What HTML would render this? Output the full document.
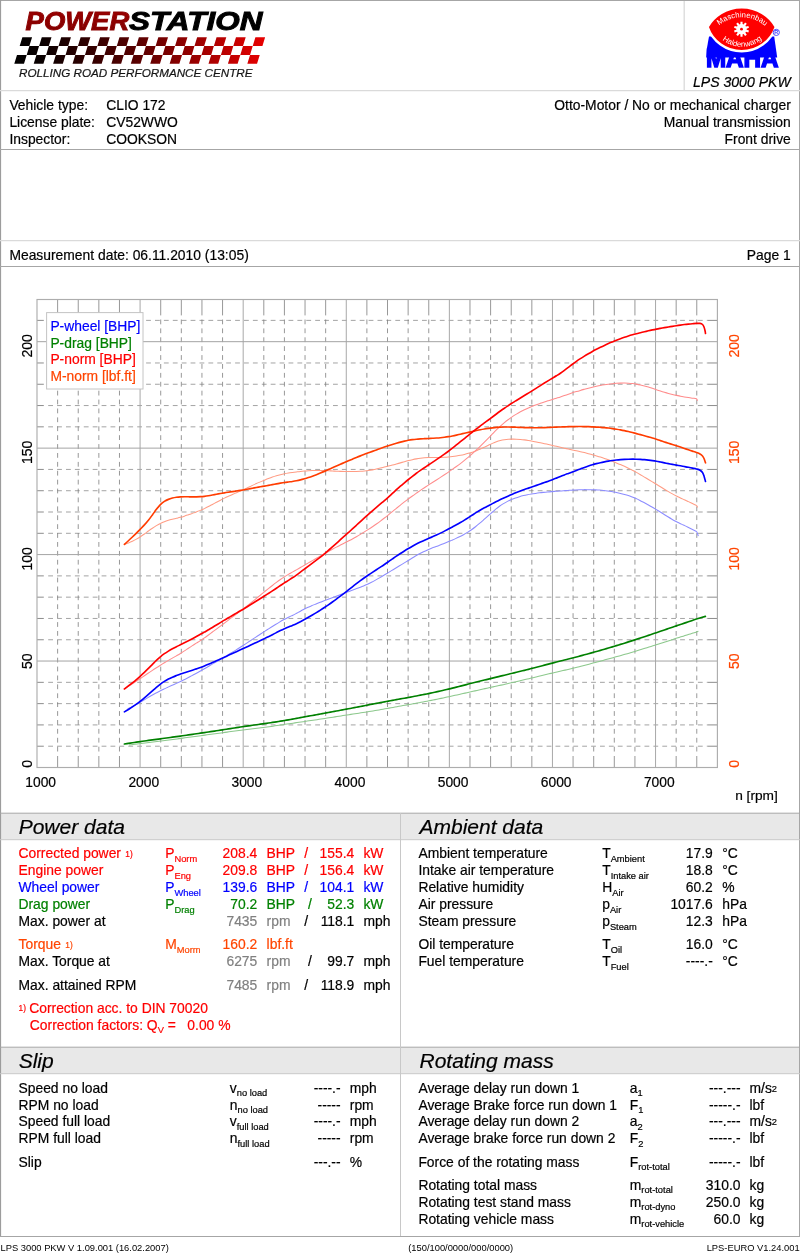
<!DOCTYPE html>
<html lang="en">
<head>
<meta charset="utf-8">
<title>LPS 3000 PKW - Power measurement</title>
<style>
html,body{margin:0;padding:0;background:#fff;}
body{width:800px;height:1253px;overflow:hidden;font-family:"Liberation Sans", Arial, sans-serif;}
svg{display:block;position:absolute;left:0;top:0;will-change:transform;}
svg{font-family:"Liberation Sans", Arial, sans-serif;font-size:13.86px;fill:#000;}
svg text{white-space:pre;stroke-width:0.2px;stroke:#000;}
.i{font-style:italic;}
.r{fill:#ff0000;stroke:#ff0000;} .b{fill:#0000ff;stroke:#0000ff;} .g{fill:#008000;stroke:#008000;} .o{fill:#ff4500;stroke:#ff4500;} .y{fill:#808080;stroke:#808080;}
svg text.ns, .ns text{stroke:none;}
</style>
</head>
<body>
<svg width="800" height="1253" viewBox="0 0 800 1253">
<!-- frame -->
<rect x="1" y="813.5" width="798" height="26" fill="#e8e8e8"/>
<rect x="1" y="1047.5" width="798" height="26" fill="#e8e8e8"/>
<line x1="0" y1="0.5" x2="800" y2="0.5" stroke="#a6a6a6" stroke-width="1"/>
<line x1="0.5" y1="0" x2="0.5" y2="1236.5" stroke="#9c9c9c" stroke-width="1.2"/>
<line x1="799.5" y1="0" x2="799.5" y2="1236.5" stroke="#a6a6a6" stroke-width="1"/>
<line x1="0" y1="1236.5" x2="800" y2="1236.5" stroke="#a6a6a6" stroke-width="1"/>
<line x1="0" y1="90.7" x2="800" y2="90.7" stroke="#dadada" stroke-width="1.3"/>
<line x1="0" y1="149.5" x2="800" y2="149.5" stroke="#a6a6a6" stroke-width="1"/>
<line x1="0" y1="240.7" x2="800" y2="240.7" stroke="#dadada" stroke-width="1.3"/>
<line x1="0" y1="266.5" x2="800" y2="266.5" stroke="#a6a6a6" stroke-width="1"/>
<line x1="0" y1="813.2" x2="800" y2="813.2" stroke="#a6a6a6" stroke-width="1"/>
<line x1="0" y1="839.7" x2="800" y2="839.7" stroke="#c8c8c8" stroke-width="1"/>
<line x1="0" y1="1047.2" x2="800" y2="1047.2" stroke="#a6a6a6" stroke-width="1"/>
<line x1="0" y1="1073.7" x2="800" y2="1073.7" stroke="#c8c8c8" stroke-width="1"/>
<line x1="684.2" y1="1" x2="684.2" y2="90.5" stroke="#dadada" stroke-width="1.3"/>
<line x1="400.5" y1="813" x2="400.5" y2="1236" stroke="#c8c8c8" stroke-width="1"/>
<!-- header -->
<defs><linearGradient id="flagg" gradientUnits="userSpaceOnUse" x1="12" x2="265" y1="0" y2="0"><stop offset="0" stop-color="#000"/><stop offset="0.12" stop-color="#0a0000"/><stop offset="0.5" stop-color="#5a0000"/><stop offset="1" stop-color="#e80000"/></linearGradient><linearGradient id="powg" x1="0" x2="0" y1="0" y2="1"><stop offset="0" stop-color="#a00000"/><stop offset="1" stop-color="#7c0000"/></linearGradient></defs>
<path d="M22.37,37.30L32.08,37.30L29.39,46.10L19.68,46.10ZM41.79,37.30L51.50,37.30L48.81,46.10L39.10,46.10ZM61.21,37.30L70.92,37.30L68.23,46.10L58.52,46.10ZM80.63,37.30L90.34,37.30L87.65,46.10L77.94,46.10ZM100.05,37.30L109.76,37.30L107.07,46.10L97.36,46.10ZM119.47,37.30L129.18,37.30L126.49,46.10L116.78,46.10ZM138.89,37.30L148.60,37.30L145.91,46.10L136.20,46.10ZM158.31,37.30L168.02,37.30L165.33,46.10L155.62,46.10ZM177.73,37.30L187.44,37.30L184.75,46.10L175.04,46.10ZM197.15,37.30L206.86,37.30L204.17,46.10L194.46,46.10ZM216.57,37.30L226.28,37.30L223.59,46.10L213.88,46.10ZM235.99,37.30L245.70,37.30L243.01,46.10L233.30,46.10ZM255.41,37.30L265.12,37.30L262.43,46.10L252.72,46.10ZM29.39,46.10L39.10,46.10L36.41,54.90L26.70,54.90ZM48.81,46.10L58.52,46.10L55.83,54.90L46.12,54.90ZM68.23,46.10L77.94,46.10L75.25,54.90L65.54,54.90ZM87.65,46.10L97.36,46.10L94.67,54.90L84.96,54.90ZM107.07,46.10L116.78,46.10L114.09,54.90L104.38,54.90ZM126.49,46.10L136.20,46.10L133.51,54.90L123.80,54.90ZM145.91,46.10L155.62,46.10L152.93,54.90L143.22,54.90ZM165.33,46.10L175.04,46.10L172.35,54.90L162.64,54.90ZM184.75,46.10L194.46,46.10L191.77,54.90L182.06,54.90ZM204.17,46.10L213.88,46.10L211.19,54.90L201.48,54.90ZM223.59,46.10L233.30,46.10L230.61,54.90L220.90,54.90ZM243.01,46.10L252.72,46.10L250.03,54.90L240.32,54.90ZM16.99,54.90L26.70,54.90L24.01,63.70L14.30,63.70ZM36.41,54.90L46.12,54.90L43.43,63.70L33.72,63.70ZM55.83,54.90L65.54,54.90L62.85,63.70L53.14,63.70ZM75.25,54.90L84.96,54.90L82.27,63.70L72.56,63.70ZM94.67,54.90L104.38,54.90L101.69,63.70L91.98,63.70ZM114.09,54.90L123.80,54.90L121.11,63.70L111.40,63.70ZM133.51,54.90L143.22,54.90L140.53,63.70L130.82,63.70ZM152.93,54.90L162.64,54.90L159.95,63.70L150.24,63.70ZM172.35,54.90L182.06,54.90L179.37,63.70L169.66,63.70ZM191.77,54.90L201.48,54.90L198.79,63.70L189.08,63.70ZM211.19,54.90L220.90,54.90L218.21,63.70L208.50,63.70ZM230.61,54.90L240.32,54.90L237.63,63.70L227.92,63.70ZM250.03,54.90L259.74,54.90L257.05,63.70L247.34,63.70Z" fill="url(#flagg)"/>
<text x="25.6" y="29.8" font-size="25.3" font-weight="bold" font-style="italic" textLength="103.6" lengthAdjust="spacingAndGlyphs" style="stroke:#8c0000;stroke-width:0.9px" fill="url(#powg)">POWER</text>
<text x="129.0" y="29.8" font-size="25.3" font-weight="bold" font-style="italic" textLength="133.4" lengthAdjust="spacingAndGlyphs" style="stroke:#000;stroke-width:0.9px" fill="#000">STATION</text>
<text x="19.1" y="77.2" font-size="11.68" font-style="italic" fill="#222">ROLLING ROAD PERFORMANCE CENTRE</text>
<path d="M709,36.6 L774.2,36.6 L777.2,57.6 L706.2,57.6 L706.6,50 Z" fill="#0000ff"/>
<text x="705.9" y="67.4" font-size="25" font-weight="bold" fill="#0000ff" style="stroke:#0000ff;stroke-width:1.5px" stroke-linejoin="miter" textLength="72.6" lengthAdjust="spacingAndGlyphs">MAHA</text>
<path d="M707.6,26.8 A39.6,39.6 0 0 1 775.8,26.8 A36,36 0 0 1 707.6,26.8Z" fill="#ff0000" stroke="#fff" stroke-width="2.4" stroke-linejoin="round"/>
<path id="arcT" d="M716.6,27.6 A35.6,35.6 0 0 1 767.6,28.4" fill="none"/>
<path id="arcB" d="M720.3,38.2 A31.6,31.6 0 0 0 764.2,37.6" fill="none"/>
<text class="ns" font-size="7.7" fill="#fff"><textPath href="#arcT" startOffset="50%" text-anchor="middle">Maschinenbau</textPath></text>
<text class="ns" font-size="7.7" fill="#fff"><textPath href="#arcB" startOffset="50%" text-anchor="middle">Haldenwang</textPath></text>
<path d="M740.45,21.67L742.55,21.67L742.60,24.12L743.60,24.44L745.08,22.49L746.77,23.73L745.38,25.74L745.99,26.58L748.34,25.88L748.98,27.87L746.67,28.68L746.67,29.72L748.98,30.53L748.34,32.52L745.99,31.82L745.38,32.66L746.77,34.67L745.08,35.91L743.60,33.96L742.60,34.28L742.55,36.73L740.45,36.73L740.40,34.28L739.40,33.96L737.92,35.91L736.23,34.67L737.62,32.66L737.01,31.82L734.66,32.52L734.02,30.53L736.33,29.72L736.33,28.68L734.02,27.87L734.66,25.88L737.01,26.58L737.62,25.74L736.23,23.73L737.92,22.49L739.40,24.44L740.40,24.12Z" fill="#fff"/><circle cx="741.5" cy="29.2" r="1.4" fill="#f00"/>
<circle cx="776.3" cy="32.4" r="3.1" fill="none" stroke="#3c3cff" stroke-width="0.9"/>
<text x="776.3" y="34.3" font-size="5.4" text-anchor="middle" font-weight="bold" fill="#3c3cff" class="ns">R</text>
<text x="692.9" y="87.0" font-size="14.1" font-style="italic">LPS 3000 PKW</text>
<text x="9.4" y="109.9">Vehicle type:</text>
<text x="106.2" y="109.9">CLIO 172</text>
<text x="9.4" y="127.0">License plate:</text>
<text x="106.2" y="127.0">CV52WWO</text>
<text x="9.4" y="144.1">Inspector:</text>
<text x="106.2" y="144.1">COOKSON</text>
<text x="790.8" y="109.9" text-anchor="end">Otto-Motor / No or mechanical charger</text>
<text x="790.8" y="127.0" text-anchor="end">Manual transmission</text>
<text x="790.8" y="144.1" text-anchor="end">Front drive</text>
<text x="9.4" y="260.3">Measurement date: 06.11.2010 (13:05)</text>
<text x="790.8" y="260.2" text-anchor="end">Page 1</text>
<!-- chart -->
<rect x="37.0" y="299.5" width="680.40" height="468.00" fill="#fff" stroke="none"/>
<line x1="57.62" y1="751.50" x2="57.62" y2="315.00" stroke="#6c6c6c" stroke-width="0.7" stroke-dasharray="4.8 4.1"/>
<line x1="57.62" y1="299.5" x2="57.62" y2="315.0" stroke="#8c8c8c" stroke-width="0.9"/>
<line x1="57.62" y1="767.5" x2="57.62" y2="756.0" stroke="#6c6c6c" stroke-width="0.7"/>
<line x1="78.24" y1="751.50" x2="78.24" y2="315.00" stroke="#6c6c6c" stroke-width="0.7" stroke-dasharray="4.8 4.1"/>
<line x1="78.24" y1="299.5" x2="78.24" y2="315.0" stroke="#8c8c8c" stroke-width="0.9"/>
<line x1="78.24" y1="767.5" x2="78.24" y2="756.0" stroke="#6c6c6c" stroke-width="0.7"/>
<line x1="98.85" y1="751.50" x2="98.85" y2="315.00" stroke="#6c6c6c" stroke-width="0.7" stroke-dasharray="4.8 4.1"/>
<line x1="98.85" y1="299.5" x2="98.85" y2="315.0" stroke="#8c8c8c" stroke-width="0.9"/>
<line x1="98.85" y1="767.5" x2="98.85" y2="756.0" stroke="#6c6c6c" stroke-width="0.7"/>
<line x1="119.47" y1="751.50" x2="119.47" y2="315.00" stroke="#6c6c6c" stroke-width="0.7" stroke-dasharray="4.8 4.1"/>
<line x1="119.47" y1="299.5" x2="119.47" y2="315.0" stroke="#8c8c8c" stroke-width="0.9"/>
<line x1="119.47" y1="767.5" x2="119.47" y2="756.0" stroke="#6c6c6c" stroke-width="0.7"/>
<line x1="160.71" y1="751.50" x2="160.71" y2="315.00" stroke="#6c6c6c" stroke-width="0.7" stroke-dasharray="4.8 4.1"/>
<line x1="160.71" y1="299.5" x2="160.71" y2="315.0" stroke="#8c8c8c" stroke-width="0.9"/>
<line x1="160.71" y1="767.5" x2="160.71" y2="756.0" stroke="#6c6c6c" stroke-width="0.7"/>
<line x1="181.33" y1="751.50" x2="181.33" y2="315.00" stroke="#6c6c6c" stroke-width="0.7" stroke-dasharray="4.8 4.1"/>
<line x1="181.33" y1="299.5" x2="181.33" y2="315.0" stroke="#8c8c8c" stroke-width="0.9"/>
<line x1="181.33" y1="767.5" x2="181.33" y2="756.0" stroke="#6c6c6c" stroke-width="0.7"/>
<line x1="201.95" y1="751.50" x2="201.95" y2="315.00" stroke="#6c6c6c" stroke-width="0.7" stroke-dasharray="4.8 4.1"/>
<line x1="201.95" y1="299.5" x2="201.95" y2="315.0" stroke="#8c8c8c" stroke-width="0.9"/>
<line x1="201.95" y1="767.5" x2="201.95" y2="756.0" stroke="#6c6c6c" stroke-width="0.7"/>
<line x1="222.56" y1="751.50" x2="222.56" y2="315.00" stroke="#6c6c6c" stroke-width="0.7" stroke-dasharray="4.8 4.1"/>
<line x1="222.56" y1="299.5" x2="222.56" y2="315.0" stroke="#8c8c8c" stroke-width="0.9"/>
<line x1="222.56" y1="767.5" x2="222.56" y2="756.0" stroke="#6c6c6c" stroke-width="0.7"/>
<line x1="263.80" y1="751.50" x2="263.80" y2="315.00" stroke="#6c6c6c" stroke-width="0.7" stroke-dasharray="4.8 4.1"/>
<line x1="263.80" y1="299.5" x2="263.80" y2="315.0" stroke="#8c8c8c" stroke-width="0.9"/>
<line x1="263.80" y1="767.5" x2="263.80" y2="756.0" stroke="#6c6c6c" stroke-width="0.7"/>
<line x1="284.42" y1="751.50" x2="284.42" y2="315.00" stroke="#6c6c6c" stroke-width="0.7" stroke-dasharray="4.8 4.1"/>
<line x1="284.42" y1="299.5" x2="284.42" y2="315.0" stroke="#8c8c8c" stroke-width="0.9"/>
<line x1="284.42" y1="767.5" x2="284.42" y2="756.0" stroke="#6c6c6c" stroke-width="0.7"/>
<line x1="305.04" y1="751.50" x2="305.04" y2="315.00" stroke="#6c6c6c" stroke-width="0.7" stroke-dasharray="4.8 4.1"/>
<line x1="305.04" y1="299.5" x2="305.04" y2="315.0" stroke="#8c8c8c" stroke-width="0.9"/>
<line x1="305.04" y1="767.5" x2="305.04" y2="756.0" stroke="#6c6c6c" stroke-width="0.7"/>
<line x1="325.65" y1="751.50" x2="325.65" y2="315.00" stroke="#6c6c6c" stroke-width="0.7" stroke-dasharray="4.8 4.1"/>
<line x1="325.65" y1="299.5" x2="325.65" y2="315.0" stroke="#8c8c8c" stroke-width="0.9"/>
<line x1="325.65" y1="767.5" x2="325.65" y2="756.0" stroke="#6c6c6c" stroke-width="0.7"/>
<line x1="366.89" y1="751.50" x2="366.89" y2="315.00" stroke="#6c6c6c" stroke-width="0.7" stroke-dasharray="4.8 4.1"/>
<line x1="366.89" y1="299.5" x2="366.89" y2="315.0" stroke="#8c8c8c" stroke-width="0.9"/>
<line x1="366.89" y1="767.5" x2="366.89" y2="756.0" stroke="#6c6c6c" stroke-width="0.7"/>
<line x1="387.51" y1="751.50" x2="387.51" y2="315.00" stroke="#6c6c6c" stroke-width="0.7" stroke-dasharray="4.8 4.1"/>
<line x1="387.51" y1="299.5" x2="387.51" y2="315.0" stroke="#8c8c8c" stroke-width="0.9"/>
<line x1="387.51" y1="767.5" x2="387.51" y2="756.0" stroke="#6c6c6c" stroke-width="0.7"/>
<line x1="408.13" y1="751.50" x2="408.13" y2="315.00" stroke="#6c6c6c" stroke-width="0.7" stroke-dasharray="4.8 4.1"/>
<line x1="408.13" y1="299.5" x2="408.13" y2="315.0" stroke="#8c8c8c" stroke-width="0.9"/>
<line x1="408.13" y1="767.5" x2="408.13" y2="756.0" stroke="#6c6c6c" stroke-width="0.7"/>
<line x1="428.75" y1="751.50" x2="428.75" y2="315.00" stroke="#6c6c6c" stroke-width="0.7" stroke-dasharray="4.8 4.1"/>
<line x1="428.75" y1="299.5" x2="428.75" y2="315.0" stroke="#8c8c8c" stroke-width="0.9"/>
<line x1="428.75" y1="767.5" x2="428.75" y2="756.0" stroke="#6c6c6c" stroke-width="0.7"/>
<line x1="469.98" y1="751.50" x2="469.98" y2="315.00" stroke="#6c6c6c" stroke-width="0.7" stroke-dasharray="4.8 4.1"/>
<line x1="469.98" y1="299.5" x2="469.98" y2="315.0" stroke="#8c8c8c" stroke-width="0.9"/>
<line x1="469.98" y1="767.5" x2="469.98" y2="756.0" stroke="#6c6c6c" stroke-width="0.7"/>
<line x1="490.60" y1="751.50" x2="490.60" y2="315.00" stroke="#6c6c6c" stroke-width="0.7" stroke-dasharray="4.8 4.1"/>
<line x1="490.60" y1="299.5" x2="490.60" y2="315.0" stroke="#8c8c8c" stroke-width="0.9"/>
<line x1="490.60" y1="767.5" x2="490.60" y2="756.0" stroke="#6c6c6c" stroke-width="0.7"/>
<line x1="511.22" y1="751.50" x2="511.22" y2="315.00" stroke="#6c6c6c" stroke-width="0.7" stroke-dasharray="4.8 4.1"/>
<line x1="511.22" y1="299.5" x2="511.22" y2="315.0" stroke="#8c8c8c" stroke-width="0.9"/>
<line x1="511.22" y1="767.5" x2="511.22" y2="756.0" stroke="#6c6c6c" stroke-width="0.7"/>
<line x1="531.84" y1="751.50" x2="531.84" y2="315.00" stroke="#6c6c6c" stroke-width="0.7" stroke-dasharray="4.8 4.1"/>
<line x1="531.84" y1="299.5" x2="531.84" y2="315.0" stroke="#8c8c8c" stroke-width="0.9"/>
<line x1="531.84" y1="767.5" x2="531.84" y2="756.0" stroke="#6c6c6c" stroke-width="0.7"/>
<line x1="573.07" y1="751.50" x2="573.07" y2="315.00" stroke="#6c6c6c" stroke-width="0.7" stroke-dasharray="4.8 4.1"/>
<line x1="573.07" y1="299.5" x2="573.07" y2="315.0" stroke="#8c8c8c" stroke-width="0.9"/>
<line x1="573.07" y1="767.5" x2="573.07" y2="756.0" stroke="#6c6c6c" stroke-width="0.7"/>
<line x1="593.69" y1="751.50" x2="593.69" y2="315.00" stroke="#6c6c6c" stroke-width="0.7" stroke-dasharray="4.8 4.1"/>
<line x1="593.69" y1="299.5" x2="593.69" y2="315.0" stroke="#8c8c8c" stroke-width="0.9"/>
<line x1="593.69" y1="767.5" x2="593.69" y2="756.0" stroke="#6c6c6c" stroke-width="0.7"/>
<line x1="614.31" y1="751.50" x2="614.31" y2="315.00" stroke="#6c6c6c" stroke-width="0.7" stroke-dasharray="4.8 4.1"/>
<line x1="614.31" y1="299.5" x2="614.31" y2="315.0" stroke="#8c8c8c" stroke-width="0.9"/>
<line x1="614.31" y1="767.5" x2="614.31" y2="756.0" stroke="#6c6c6c" stroke-width="0.7"/>
<line x1="634.93" y1="751.50" x2="634.93" y2="315.00" stroke="#6c6c6c" stroke-width="0.7" stroke-dasharray="4.8 4.1"/>
<line x1="634.93" y1="299.5" x2="634.93" y2="315.0" stroke="#8c8c8c" stroke-width="0.9"/>
<line x1="634.93" y1="767.5" x2="634.93" y2="756.0" stroke="#6c6c6c" stroke-width="0.7"/>
<line x1="676.16" y1="751.50" x2="676.16" y2="315.00" stroke="#6c6c6c" stroke-width="0.7" stroke-dasharray="4.8 4.1"/>
<line x1="676.16" y1="299.5" x2="676.16" y2="315.0" stroke="#8c8c8c" stroke-width="0.9"/>
<line x1="676.16" y1="767.5" x2="676.16" y2="756.0" stroke="#6c6c6c" stroke-width="0.7"/>
<line x1="696.78" y1="751.50" x2="696.78" y2="315.00" stroke="#6c6c6c" stroke-width="0.7" stroke-dasharray="4.8 4.1"/>
<line x1="696.78" y1="299.5" x2="696.78" y2="315.0" stroke="#8c8c8c" stroke-width="0.9"/>
<line x1="696.78" y1="767.5" x2="696.78" y2="756.0" stroke="#6c6c6c" stroke-width="0.7"/>
<line x1="48.20" y1="746.21" x2="707.40" y2="746.21" stroke="#7c7c7c" stroke-width="0.7" stroke-dasharray="4.8 4.1"/>
<line x1="37.0" y1="746.21" x2="43.8" y2="746.21" stroke="#8c8c8c" stroke-width="1"/>
<line x1="707.4" y1="746.21" x2="717.4" y2="746.21" stroke="#8c8c8c" stroke-width="1"/>
<line x1="48.20" y1="724.92" x2="707.40" y2="724.92" stroke="#7c7c7c" stroke-width="0.7" stroke-dasharray="4.8 4.1"/>
<line x1="37.0" y1="724.92" x2="43.8" y2="724.92" stroke="#8c8c8c" stroke-width="1"/>
<line x1="707.4" y1="724.92" x2="717.4" y2="724.92" stroke="#8c8c8c" stroke-width="1"/>
<line x1="48.20" y1="703.63" x2="707.40" y2="703.63" stroke="#7c7c7c" stroke-width="0.7" stroke-dasharray="4.8 4.1"/>
<line x1="37.0" y1="703.63" x2="43.8" y2="703.63" stroke="#8c8c8c" stroke-width="1"/>
<line x1="707.4" y1="703.63" x2="717.4" y2="703.63" stroke="#8c8c8c" stroke-width="1"/>
<line x1="48.20" y1="682.34" x2="707.40" y2="682.34" stroke="#7c7c7c" stroke-width="0.7" stroke-dasharray="4.8 4.1"/>
<line x1="37.0" y1="682.34" x2="43.8" y2="682.34" stroke="#8c8c8c" stroke-width="1"/>
<line x1="707.4" y1="682.34" x2="717.4" y2="682.34" stroke="#8c8c8c" stroke-width="1"/>
<line x1="48.20" y1="639.75" x2="707.40" y2="639.75" stroke="#7c7c7c" stroke-width="0.7" stroke-dasharray="4.8 4.1"/>
<line x1="37.0" y1="639.75" x2="43.8" y2="639.75" stroke="#8c8c8c" stroke-width="1"/>
<line x1="707.4" y1="639.75" x2="717.4" y2="639.75" stroke="#8c8c8c" stroke-width="1"/>
<line x1="48.20" y1="618.46" x2="707.40" y2="618.46" stroke="#7c7c7c" stroke-width="0.7" stroke-dasharray="4.8 4.1"/>
<line x1="37.0" y1="618.46" x2="43.8" y2="618.46" stroke="#8c8c8c" stroke-width="1"/>
<line x1="707.4" y1="618.46" x2="717.4" y2="618.46" stroke="#8c8c8c" stroke-width="1"/>
<line x1="48.20" y1="597.17" x2="707.40" y2="597.17" stroke="#7c7c7c" stroke-width="0.7" stroke-dasharray="4.8 4.1"/>
<line x1="37.0" y1="597.17" x2="43.8" y2="597.17" stroke="#8c8c8c" stroke-width="1"/>
<line x1="707.4" y1="597.17" x2="717.4" y2="597.17" stroke="#8c8c8c" stroke-width="1"/>
<line x1="48.20" y1="575.88" x2="707.40" y2="575.88" stroke="#7c7c7c" stroke-width="0.7" stroke-dasharray="4.8 4.1"/>
<line x1="37.0" y1="575.88" x2="43.8" y2="575.88" stroke="#8c8c8c" stroke-width="1"/>
<line x1="707.4" y1="575.88" x2="717.4" y2="575.88" stroke="#8c8c8c" stroke-width="1"/>
<line x1="48.20" y1="533.30" x2="707.40" y2="533.30" stroke="#7c7c7c" stroke-width="0.7" stroke-dasharray="4.8 4.1"/>
<line x1="37.0" y1="533.30" x2="43.8" y2="533.30" stroke="#8c8c8c" stroke-width="1"/>
<line x1="707.4" y1="533.30" x2="717.4" y2="533.30" stroke="#8c8c8c" stroke-width="1"/>
<line x1="48.20" y1="512.01" x2="707.40" y2="512.01" stroke="#7c7c7c" stroke-width="0.7" stroke-dasharray="4.8 4.1"/>
<line x1="37.0" y1="512.01" x2="43.8" y2="512.01" stroke="#8c8c8c" stroke-width="1"/>
<line x1="707.4" y1="512.01" x2="717.4" y2="512.01" stroke="#8c8c8c" stroke-width="1"/>
<line x1="48.20" y1="490.72" x2="707.40" y2="490.72" stroke="#7c7c7c" stroke-width="0.7" stroke-dasharray="4.8 4.1"/>
<line x1="37.0" y1="490.72" x2="43.8" y2="490.72" stroke="#8c8c8c" stroke-width="1"/>
<line x1="707.4" y1="490.72" x2="717.4" y2="490.72" stroke="#8c8c8c" stroke-width="1"/>
<line x1="48.20" y1="469.43" x2="707.40" y2="469.43" stroke="#7c7c7c" stroke-width="0.7" stroke-dasharray="4.8 4.1"/>
<line x1="37.0" y1="469.43" x2="43.8" y2="469.43" stroke="#8c8c8c" stroke-width="1"/>
<line x1="707.4" y1="469.43" x2="717.4" y2="469.43" stroke="#8c8c8c" stroke-width="1"/>
<line x1="48.20" y1="426.84" x2="707.40" y2="426.84" stroke="#7c7c7c" stroke-width="0.7" stroke-dasharray="4.8 4.1"/>
<line x1="37.0" y1="426.84" x2="43.8" y2="426.84" stroke="#8c8c8c" stroke-width="1"/>
<line x1="707.4" y1="426.84" x2="717.4" y2="426.84" stroke="#8c8c8c" stroke-width="1"/>
<line x1="48.20" y1="405.55" x2="707.40" y2="405.55" stroke="#7c7c7c" stroke-width="0.7" stroke-dasharray="4.8 4.1"/>
<line x1="37.0" y1="405.55" x2="43.8" y2="405.55" stroke="#8c8c8c" stroke-width="1"/>
<line x1="707.4" y1="405.55" x2="717.4" y2="405.55" stroke="#8c8c8c" stroke-width="1"/>
<line x1="48.20" y1="384.26" x2="707.40" y2="384.26" stroke="#7c7c7c" stroke-width="0.7" stroke-dasharray="4.8 4.1"/>
<line x1="37.0" y1="384.26" x2="43.8" y2="384.26" stroke="#8c8c8c" stroke-width="1"/>
<line x1="707.4" y1="384.26" x2="717.4" y2="384.26" stroke="#8c8c8c" stroke-width="1"/>
<line x1="48.20" y1="362.97" x2="707.40" y2="362.97" stroke="#7c7c7c" stroke-width="0.7" stroke-dasharray="4.8 4.1"/>
<line x1="37.0" y1="362.97" x2="43.8" y2="362.97" stroke="#8c8c8c" stroke-width="1"/>
<line x1="707.4" y1="362.97" x2="717.4" y2="362.97" stroke="#8c8c8c" stroke-width="1"/>
<line x1="48.20" y1="320.39" x2="707.40" y2="320.39" stroke="#7c7c7c" stroke-width="0.7" stroke-dasharray="4.8 4.1"/>
<line x1="37.0" y1="320.39" x2="43.8" y2="320.39" stroke="#8c8c8c" stroke-width="1"/>
<line x1="707.4" y1="320.39" x2="717.4" y2="320.39" stroke="#8c8c8c" stroke-width="1"/>
<line x1="140.09" y1="299.5" x2="140.09" y2="767.5" stroke="#a8a8a8" stroke-width="1"/>
<line x1="243.18" y1="299.5" x2="243.18" y2="767.5" stroke="#a8a8a8" stroke-width="1"/>
<line x1="346.27" y1="299.5" x2="346.27" y2="767.5" stroke="#a8a8a8" stroke-width="1"/>
<line x1="449.36" y1="299.5" x2="449.36" y2="767.5" stroke="#a8a8a8" stroke-width="1"/>
<line x1="552.45" y1="299.5" x2="552.45" y2="767.5" stroke="#a8a8a8" stroke-width="1"/>
<line x1="655.55" y1="299.5" x2="655.55" y2="767.5" stroke="#a8a8a8" stroke-width="1"/>
<line x1="37.0" y1="661.04" x2="717.4" y2="661.04" stroke="#a4a4a4" stroke-width="1"/>
<line x1="37.0" y1="554.59" x2="717.4" y2="554.59" stroke="#a4a4a4" stroke-width="1"/>
<line x1="37.0" y1="448.13" x2="717.4" y2="448.13" stroke="#a4a4a4" stroke-width="1"/>
<line x1="37.0" y1="341.68" x2="717.4" y2="341.68" stroke="#a4a4a4" stroke-width="1"/>
<rect x="37.0" y="299.5" width="680.40" height="468.00" fill="none" stroke="#adadad" stroke-width="1.15"/>
<path d="M124.40,544.36C125.07,544.12 127.07,543.42 128.40,542.89C129.73,542.36 131.07,541.79 132.40,541.17C133.73,540.54 135.07,539.87 136.40,539.13C137.73,538.39 139.07,537.60 140.40,536.74C141.73,535.88 143.07,534.93 144.40,533.98C145.73,533.02 147.07,532.00 148.40,531.03C149.73,530.07 151.07,529.10 152.40,528.20C153.73,527.29 155.07,526.42 156.40,525.63C157.73,524.84 159.07,524.10 160.40,523.45C161.73,522.80 163.07,522.23 164.40,521.72C165.73,521.20 167.07,520.76 168.40,520.35C169.73,519.94 171.07,519.60 172.40,519.26C173.73,518.92 175.07,518.64 176.40,518.32C177.73,518.00 179.07,517.69 180.40,517.33C181.73,516.97 183.07,516.57 184.40,516.15C185.73,515.73 187.07,515.25 188.40,514.79C189.73,514.33 191.07,513.85 192.40,513.37C193.73,512.89 195.07,512.43 196.40,511.93C197.73,511.43 199.07,510.93 200.40,510.38C201.73,509.82 203.07,509.23 204.40,508.60C205.73,507.96 207.07,507.28 208.40,506.58C209.73,505.89 211.07,505.16 212.40,504.45C213.73,503.73 215.07,503.00 216.40,502.28C217.73,501.57 219.07,500.85 220.40,500.16C221.73,499.47 223.07,498.80 224.40,498.15C225.73,497.50 227.07,496.88 228.40,496.27C229.73,495.65 231.07,495.07 232.40,494.48C233.73,493.90 235.07,493.34 236.40,492.76C237.73,492.19 239.07,491.62 240.40,491.03C241.73,490.44 243.07,489.83 244.40,489.21C245.73,488.58 247.07,487.92 248.40,487.28C249.73,486.64 251.07,485.99 252.40,485.37C253.73,484.75 255.07,484.15 256.40,483.57C257.73,482.99 259.07,482.43 260.40,481.87C261.73,481.31 263.07,480.76 264.40,480.22C265.73,479.67 267.07,479.11 268.40,478.59C269.73,478.07 271.07,477.55 272.40,477.08C273.73,476.61 275.07,476.17 276.40,475.77C277.73,475.37 279.07,475.00 280.40,474.67C281.73,474.34 283.07,474.04 284.40,473.77C285.73,473.51 287.07,473.28 288.40,473.06C289.73,472.84 291.07,472.65 292.40,472.46C293.73,472.27 295.07,472.09 296.40,471.91C297.73,471.74 299.07,471.56 300.40,471.41C301.73,471.25 303.07,471.11 304.40,470.99C305.73,470.88 307.07,470.78 308.40,470.70C309.73,470.62 311.07,470.56 312.40,470.51C313.73,470.47 315.07,470.45 316.40,470.44C317.73,470.43 319.07,470.44 320.40,470.45C321.73,470.47 323.07,470.49 324.40,470.54C325.73,470.59 327.07,470.65 328.40,470.73C329.73,470.80 331.07,470.91 332.40,470.99C333.73,471.08 335.07,471.16 336.40,471.23C337.73,471.29 339.07,471.34 340.40,471.38C341.73,471.42 343.07,471.44 344.40,471.46C345.73,471.48 347.07,471.49 348.40,471.49C349.73,471.50 351.07,471.50 352.40,471.49C353.73,471.48 355.07,471.47 356.40,471.44C357.73,471.41 359.07,471.37 360.40,471.30C361.73,471.23 363.07,471.14 364.40,471.01C365.73,470.89 367.07,470.74 368.40,470.55C369.73,470.36 371.07,470.14 372.40,469.89C373.73,469.64 375.07,469.36 376.40,469.06C377.73,468.76 379.07,468.44 380.40,468.11C381.73,467.78 383.07,467.43 384.40,467.08C385.73,466.74 387.07,466.39 388.40,466.04C389.73,465.70 391.07,465.37 392.40,465.02C393.73,464.68 395.07,464.34 396.40,463.98C397.73,463.62 399.07,463.24 400.40,462.87C401.73,462.49 403.07,462.08 404.40,461.71C405.73,461.33 407.07,460.95 408.40,460.61C409.73,460.26 411.07,459.94 412.40,459.65C413.73,459.36 415.07,459.09 416.40,458.86C417.73,458.63 419.07,458.43 420.40,458.26C421.73,458.08 423.07,457.94 424.40,457.83C425.73,457.72 427.07,457.65 428.40,457.60C429.73,457.54 431.07,457.53 432.40,457.51C433.73,457.49 435.07,457.50 436.40,457.48C437.73,457.46 439.07,457.45 440.40,457.41C441.73,457.36 443.07,457.31 444.40,457.23C445.73,457.15 447.07,457.05 448.40,456.94C449.73,456.82 451.07,456.69 452.40,456.54C453.73,456.38 455.07,456.21 456.40,456.01C457.73,455.80 459.07,455.58 460.40,455.31C461.73,455.05 463.07,454.76 464.40,454.43C465.73,454.11 467.07,453.76 468.40,453.37C469.73,452.99 471.07,452.58 472.40,452.14C473.73,451.70 475.07,451.23 476.40,450.72C477.73,450.21 479.07,449.66 480.40,449.07C481.73,448.49 483.07,447.84 484.40,447.20C485.73,446.56 487.07,445.88 488.40,445.24C489.73,444.60 491.07,443.95 492.40,443.37C493.73,442.79 495.07,442.23 496.40,441.75C497.73,441.28 499.07,440.88 500.40,440.54C501.73,440.21 503.07,439.95 504.40,439.74C505.73,439.53 507.07,439.38 508.40,439.28C509.73,439.18 511.07,439.14 512.40,439.12C513.73,439.11 515.07,439.14 516.40,439.19C517.73,439.25 519.07,439.32 520.40,439.44C521.73,439.55 523.07,439.69 524.40,439.86C525.73,440.03 527.07,440.24 528.40,440.47C529.73,440.69 531.07,440.94 532.40,441.19C533.73,441.44 535.07,441.70 536.40,441.97C537.73,442.24 539.07,442.51 540.40,442.79C541.73,443.07 543.07,443.35 544.40,443.64C545.73,443.92 547.07,444.21 548.40,444.50C549.73,444.80 551.07,445.09 552.40,445.40C553.73,445.70 555.07,446.01 556.40,446.32C557.73,446.63 559.07,446.94 560.40,447.25C561.73,447.56 563.07,447.87 564.40,448.18C565.73,448.48 567.07,448.78 568.40,449.08C569.73,449.38 571.07,449.67 572.40,449.96C573.73,450.24 575.07,450.52 576.40,450.81C577.73,451.10 579.07,451.38 580.40,451.68C581.73,451.98 583.07,452.29 584.40,452.61C585.73,452.94 587.07,453.29 588.40,453.64C589.73,453.99 591.07,454.36 592.40,454.73C593.73,455.11 595.07,455.48 596.40,455.88C597.73,456.27 599.07,456.66 600.40,457.09C601.73,457.51 603.07,457.94 604.40,458.40C605.73,458.86 607.07,459.35 608.40,459.84C609.73,460.34 611.07,460.86 612.40,461.38C613.73,461.90 615.07,462.42 616.40,462.96C617.73,463.50 619.07,464.03 620.40,464.59C621.73,465.15 623.07,465.72 624.40,466.32C625.73,466.91 627.07,467.53 628.40,468.17C629.73,468.82 631.07,469.48 632.40,470.18C633.73,470.88 635.07,471.61 636.40,472.36C637.73,473.12 639.07,473.91 640.40,474.70C641.73,475.49 643.07,476.31 644.40,477.10C645.73,477.90 647.07,478.69 648.40,479.49C649.73,480.28 651.07,481.06 652.40,481.86C653.73,482.66 655.07,483.46 656.40,484.28C657.73,485.09 659.07,485.92 660.40,486.74C661.73,487.56 663.07,488.39 664.40,489.20C665.73,490.01 667.07,490.81 668.40,491.59C669.73,492.37 671.07,493.14 672.40,493.87C673.73,494.61 675.07,495.31 676.40,495.99C677.73,496.67 679.07,497.30 680.40,497.93C681.73,498.57 683.07,499.17 684.40,499.79C685.73,500.41 687.07,501.02 688.40,501.65C689.73,502.27 691.07,502.90 692.40,503.54C693.73,504.17 695.52,504.79 696.40,505.45C697.28,506.11 697.48,507.16 697.70,507.50" fill="none" stroke="#ff9c84" stroke-width="1.05"/>
<path d="M124.40,689.00C125.07,688.56 127.07,687.28 128.40,686.41C129.73,685.54 131.07,684.67 132.40,683.79C133.73,682.91 135.07,682.03 136.40,681.14C137.73,680.24 139.07,679.34 140.40,678.44C141.73,677.54 143.07,676.62 144.40,675.72C145.73,674.81 147.07,673.90 148.40,673.00C149.73,672.10 151.07,671.21 152.40,670.33C153.73,669.45 155.07,668.57 156.40,667.71C157.73,666.85 159.07,666.01 160.40,665.18C161.73,664.34 163.07,663.53 164.40,662.73C165.73,661.93 167.07,661.14 168.40,660.37C169.73,659.60 171.07,658.84 172.40,658.09C173.73,657.33 175.07,656.60 176.40,655.83C177.73,655.06 179.07,654.29 180.40,653.48C181.73,652.66 183.07,651.79 184.40,650.92C185.73,650.05 187.07,649.13 188.40,648.25C189.73,647.37 191.07,646.49 192.40,645.64C193.73,644.79 195.07,643.98 196.40,643.15C197.73,642.31 199.07,641.50 200.40,640.63C201.73,639.76 203.07,638.85 204.40,637.91C205.73,636.98 207.07,635.98 208.40,635.00C209.73,634.02 211.07,633.01 212.40,632.02C213.73,631.03 215.07,630.05 216.40,629.07C217.73,628.08 219.07,627.11 220.40,626.12C221.73,625.12 223.07,624.12 224.40,623.11C225.73,622.10 227.07,621.07 228.40,620.06C229.73,619.05 231.07,618.04 232.40,617.05C233.73,616.05 235.07,615.08 236.40,614.11C237.73,613.13 239.07,612.17 240.40,611.18C241.73,610.19 243.07,609.18 244.40,608.15C245.73,607.12 247.07,606.06 248.40,604.99C249.73,603.92 251.07,602.82 252.40,601.72C253.73,600.63 255.07,599.51 256.40,598.41C257.73,597.30 259.07,596.19 260.40,595.09C261.73,593.99 263.07,592.89 264.40,591.81C265.73,590.73 267.07,589.66 268.40,588.60C269.73,587.54 271.07,586.50 272.40,585.47C273.73,584.44 275.07,583.41 276.40,582.42C277.73,581.42 279.07,580.43 280.40,579.50C281.73,578.57 283.07,577.67 284.40,576.82C285.73,575.97 287.07,575.18 288.40,574.39C289.73,573.61 291.07,572.88 292.40,572.12C293.73,571.37 295.07,570.62 296.40,569.86C297.73,569.09 299.07,568.32 300.40,567.54C301.73,566.77 303.07,565.99 304.40,565.22C305.73,564.44 307.07,563.67 308.40,562.90C309.73,562.13 311.07,561.36 312.40,560.59C313.73,559.82 315.07,559.05 316.40,558.28C317.73,557.52 319.07,556.74 320.40,555.98C321.73,555.21 323.07,554.45 324.40,553.69C325.73,552.93 327.07,552.18 328.40,551.44C329.73,550.70 331.07,549.97 332.40,549.25C333.73,548.53 335.07,547.82 336.40,547.13C337.73,546.43 339.07,545.75 340.40,545.07C341.73,544.39 343.07,543.73 344.40,543.05C345.73,542.37 347.07,541.70 348.40,541.01C349.73,540.32 351.07,539.64 352.40,538.92C353.73,538.21 355.07,537.48 356.40,536.72C357.73,535.97 359.07,535.18 360.40,534.38C361.73,533.58 363.07,532.75 364.40,531.91C365.73,531.08 367.07,530.23 368.40,529.37C369.73,528.51 371.07,527.64 372.40,526.75C373.73,525.85 375.07,524.95 376.40,524.00C377.73,523.06 379.07,522.09 380.40,521.09C381.73,520.09 383.07,519.06 384.40,518.01C385.73,516.97 387.07,515.90 388.40,514.82C389.73,513.75 391.07,512.65 392.40,511.56C393.73,510.47 395.07,509.38 396.40,508.30C397.73,507.22 399.07,506.15 400.40,505.09C401.73,504.04 403.07,502.99 404.40,501.96C405.73,500.93 407.07,499.92 408.40,498.92C409.73,497.93 411.07,496.95 412.40,495.98C413.73,495.01 415.07,494.07 416.40,493.13C417.73,492.20 419.07,491.28 420.40,490.37C421.73,489.47 423.07,488.58 424.40,487.70C425.73,486.82 427.07,485.95 428.40,485.09C429.73,484.23 431.07,483.38 432.40,482.53C433.73,481.68 435.07,480.83 436.40,479.98C437.73,479.13 439.07,478.28 440.40,477.42C441.73,476.55 443.07,475.69 444.40,474.81C445.73,473.93 447.07,473.04 448.40,472.14C449.73,471.24 451.07,470.32 452.40,469.39C453.73,468.46 455.07,467.51 456.40,466.54C457.73,465.57 459.07,464.59 460.40,463.57C461.73,462.56 463.07,461.53 464.40,460.46C465.73,459.39 467.07,458.29 468.40,457.16C469.73,456.02 471.07,454.84 472.40,453.64C473.73,452.43 475.07,451.19 476.40,449.92C477.73,448.66 479.07,447.37 480.40,446.07C481.73,444.77 483.07,443.45 484.40,442.12C485.73,440.79 487.07,439.44 488.40,438.09C489.73,436.73 491.07,435.35 492.40,433.99C493.73,432.63 495.07,431.24 496.40,429.93C497.73,428.61 499.07,427.32 500.40,426.10C501.73,424.89 503.07,423.73 504.40,422.64C505.73,421.54 507.07,420.50 508.40,419.51C509.73,418.52 511.07,417.58 512.40,416.68C513.73,415.78 515.07,414.94 516.40,414.13C517.73,413.32 519.07,412.55 520.40,411.82C521.73,411.10 523.07,410.41 524.40,409.76C525.73,409.10 527.07,408.49 528.40,407.90C529.73,407.31 531.07,406.76 532.40,406.22C533.73,405.69 535.07,405.19 536.40,404.70C537.73,404.21 539.07,403.75 540.40,403.29C541.73,402.83 543.07,402.39 544.40,401.96C545.73,401.52 547.07,401.10 548.40,400.68C549.73,400.26 551.07,399.85 552.40,399.44C553.73,399.02 555.07,398.62 556.40,398.20C557.73,397.78 559.07,397.37 560.40,396.93C561.73,396.50 563.07,396.05 564.40,395.60C565.73,395.14 567.07,394.67 568.40,394.21C569.73,393.75 571.07,393.29 572.40,392.85C573.73,392.41 575.07,391.98 576.40,391.57C577.73,391.16 579.07,390.77 580.40,390.39C581.73,390.00 583.07,389.63 584.40,389.26C585.73,388.89 587.07,388.53 588.40,388.19C589.73,387.84 591.07,387.50 592.40,387.18C593.73,386.85 595.07,386.54 596.40,386.25C597.73,385.96 599.07,385.67 600.40,385.42C601.73,385.16 603.07,384.93 604.40,384.72C605.73,384.50 607.07,384.32 608.40,384.15C609.73,383.98 611.07,383.83 612.40,383.69C613.73,383.56 615.07,383.44 616.40,383.34C617.73,383.25 619.07,383.16 620.40,383.11C621.73,383.05 623.07,383.02 624.40,383.03C625.73,383.05 627.07,383.10 628.40,383.19C629.73,383.28 631.07,383.40 632.40,383.56C633.73,383.72 635.07,383.91 636.40,384.14C637.73,384.37 639.07,384.63 640.40,384.93C641.73,385.23 643.07,385.56 644.40,385.92C645.73,386.28 647.07,386.67 648.40,387.08C649.73,387.49 651.07,387.93 652.40,388.36C653.73,388.80 655.07,389.25 656.40,389.69C657.73,390.14 659.07,390.58 660.40,391.01C661.73,391.44 663.07,391.86 664.40,392.26C665.73,392.66 667.07,393.05 668.40,393.41C669.73,393.77 671.07,394.12 672.40,394.45C673.73,394.77 675.07,395.08 676.40,395.37C677.73,395.66 679.07,395.92 680.40,396.18C681.73,396.43 683.07,396.67 684.40,396.90C685.73,397.14 687.07,397.36 688.40,397.57C689.73,397.79 691.07,397.99 692.40,398.19C693.73,398.40 695.55,398.35 696.40,398.78C697.25,399.22 697.32,400.46 697.50,400.80" fill="none" stroke="#ff8c8c" stroke-width="1.05"/>
<path d="M127.50,708.78C128.17,708.47 130.17,707.55 131.50,706.90C132.83,706.24 134.17,705.58 135.50,704.88C136.83,704.18 138.17,703.45 139.50,702.69C140.83,701.92 142.17,701.11 143.50,700.31C144.83,699.50 146.17,698.66 147.50,697.85C148.83,697.05 150.17,696.25 151.50,695.49C152.83,694.72 154.17,693.99 155.50,693.28C156.83,692.56 158.17,691.88 159.50,691.21C160.83,690.54 162.17,689.89 163.50,689.26C164.83,688.62 166.17,688.01 167.50,687.40C168.83,686.79 170.17,686.20 171.50,685.60C172.83,685.01 174.17,684.42 175.50,683.82C176.83,683.22 178.17,682.63 179.50,682.00C180.83,681.37 182.17,680.72 183.50,680.05C184.83,679.39 186.17,678.69 187.50,677.99C188.83,677.30 190.17,676.59 191.50,675.88C192.83,675.17 194.17,674.46 195.50,673.75C196.83,673.03 198.17,672.31 199.50,671.58C200.83,670.84 202.17,670.09 203.50,669.33C204.83,668.56 206.17,667.77 207.50,666.99C208.83,666.20 210.17,665.40 211.50,664.61C212.83,663.82 214.17,663.02 215.50,662.23C216.83,661.44 218.17,660.66 219.50,659.87C220.83,659.09 222.17,658.31 223.50,657.53C224.83,656.75 226.17,655.97 227.50,655.18C228.83,654.40 230.17,653.61 231.50,652.80C232.83,651.99 234.17,651.17 235.50,650.33C236.83,649.50 238.17,648.65 239.50,647.79C240.83,646.94 242.17,646.07 243.50,645.20C244.83,644.34 246.17,643.47 247.50,642.60C248.83,641.73 250.17,640.85 251.50,639.98C252.83,639.10 254.17,638.23 255.50,637.35C256.83,636.48 258.17,635.60 259.50,634.73C260.83,633.85 262.17,632.98 263.50,632.12C264.83,631.26 266.17,630.40 267.50,629.55C268.83,628.70 270.17,627.86 271.50,627.02C272.83,626.18 274.17,625.34 275.50,624.52C276.83,623.69 278.17,622.87 279.50,622.08C280.83,621.30 282.17,620.54 283.50,619.83C284.83,619.11 286.17,618.45 287.50,617.80C288.83,617.14 290.17,616.54 291.50,615.89C292.83,615.23 294.17,614.58 295.50,613.88C296.83,613.19 298.17,612.44 299.50,611.72C300.83,611.00 302.17,610.24 303.50,609.56C304.83,608.87 306.17,608.22 307.50,607.60C308.83,606.98 310.17,606.42 311.50,605.85C312.83,605.28 314.17,604.74 315.50,604.20C316.83,603.66 318.17,603.12 319.50,602.59C320.83,602.06 322.17,601.53 323.50,601.01C324.83,600.50 326.17,599.99 327.50,599.49C328.83,598.99 330.17,598.50 331.50,598.00C332.83,597.50 334.17,597.01 335.50,596.51C336.83,596.01 338.17,595.50 339.50,595.00C340.83,594.49 342.17,593.97 343.50,593.47C344.83,592.96 346.17,592.46 347.50,591.97C348.83,591.47 350.17,590.98 351.50,590.49C352.83,590.00 354.17,589.51 355.50,589.02C356.83,588.52 358.17,588.03 359.50,587.51C360.83,586.99 362.17,586.48 363.50,585.92C364.83,585.37 366.17,584.79 367.50,584.18C368.83,583.56 370.17,582.91 371.50,582.23C372.83,581.56 374.17,580.84 375.50,580.11C376.83,579.38 378.17,578.63 379.50,577.86C380.83,577.09 382.17,576.30 383.50,575.51C384.83,574.71 386.17,573.90 387.50,573.10C388.83,572.29 390.17,571.48 391.50,570.67C392.83,569.86 394.17,569.04 395.50,568.23C396.83,567.42 398.17,566.61 399.50,565.80C400.83,564.99 402.17,564.19 403.50,563.38C404.83,562.57 406.17,561.75 407.50,560.93C408.83,560.11 410.17,559.27 411.50,558.45C412.83,557.63 414.17,556.80 415.50,556.02C416.83,555.24 418.17,554.48 419.50,553.77C420.83,553.06 422.17,552.38 423.50,551.74C424.83,551.10 426.17,550.50 427.50,549.93C428.83,549.35 430.17,548.82 431.50,548.30C432.83,547.77 434.17,547.29 435.50,546.78C436.83,546.27 438.17,545.78 439.50,545.26C440.83,544.74 442.17,544.21 443.50,543.68C444.83,543.14 446.17,542.59 447.50,542.04C448.83,541.48 450.17,540.93 451.50,540.36C452.83,539.79 454.17,539.22 455.50,538.62C456.83,538.02 458.17,537.41 459.50,536.75C460.83,536.10 462.17,535.43 463.50,534.70C464.83,533.97 466.17,533.21 467.50,532.39C468.83,531.56 470.17,530.68 471.50,529.73C472.83,528.79 474.17,527.77 475.50,526.72C476.83,525.67 478.17,524.56 479.50,523.44C480.83,522.31 482.17,521.13 483.50,519.96C484.83,518.78 486.17,517.57 487.50,516.37C488.83,515.18 490.17,513.96 491.50,512.79C492.83,511.62 494.17,510.44 495.50,509.35C496.83,508.26 498.17,507.20 499.50,506.24C500.83,505.28 502.17,504.41 503.50,503.60C504.83,502.79 506.17,502.07 507.50,501.39C508.83,500.71 510.17,500.10 511.50,499.52C512.83,498.94 514.17,498.42 515.50,497.94C516.83,497.45 518.17,497.02 519.50,496.63C520.83,496.23 522.17,495.89 523.50,495.58C524.83,495.27 526.17,495.00 527.50,494.74C528.83,494.48 530.17,494.25 531.50,494.03C532.83,493.81 534.17,493.60 535.50,493.40C536.83,493.20 538.17,493.01 539.50,492.84C540.83,492.66 542.17,492.51 543.50,492.36C544.83,492.21 546.17,492.07 547.50,491.95C548.83,491.82 550.17,491.71 551.50,491.61C552.83,491.50 554.17,491.42 555.50,491.33C556.83,491.24 558.17,491.16 559.50,491.07C560.83,490.98 562.17,490.89 563.50,490.80C564.83,490.70 566.17,490.60 567.50,490.49C568.83,490.39 570.17,490.29 571.50,490.19C572.83,490.10 574.17,490.00 575.50,489.93C576.83,489.85 578.17,489.78 579.50,489.74C580.83,489.69 582.17,489.66 583.50,489.65C584.83,489.64 586.17,489.65 587.50,489.66C588.83,489.67 590.17,489.70 591.50,489.73C592.83,489.77 594.17,489.81 595.50,489.87C596.83,489.94 598.17,490.01 599.50,490.10C600.83,490.20 602.17,490.31 603.50,490.45C604.83,490.58 606.17,490.74 607.50,490.93C608.83,491.11 610.17,491.32 611.50,491.55C612.83,491.78 614.17,492.03 615.50,492.31C616.83,492.58 618.17,492.88 619.50,493.20C620.83,493.51 622.17,493.85 623.50,494.22C624.83,494.58 626.17,494.96 627.50,495.37C628.83,495.79 630.17,496.22 631.50,496.71C632.83,497.20 634.17,497.73 635.50,498.31C636.83,498.89 638.17,499.53 639.50,500.20C640.83,500.86 642.17,501.58 643.50,502.30C644.83,503.02 646.17,503.76 647.50,504.50C648.83,505.25 650.17,506.00 651.50,506.78C652.83,507.55 654.17,508.33 655.50,509.13C656.83,509.93 658.17,510.75 659.50,511.57C660.83,512.40 662.17,513.23 663.50,514.06C664.83,514.89 666.17,515.73 667.50,516.54C668.83,517.36 670.17,518.18 671.50,518.95C672.83,519.73 674.17,520.48 675.50,521.19C676.83,521.90 678.17,522.55 679.50,523.20C680.83,523.85 682.17,524.45 683.50,525.08C684.83,525.71 686.17,526.33 687.50,526.98C688.83,527.62 690.17,528.28 691.50,528.95C692.83,529.62 694.67,530.56 695.50,530.99C696.33,531.42 696.17,531.09 696.50,531.51C696.83,531.93 697.20,532.72 697.50,533.50C697.80,534.28 698.17,535.75 698.30,536.20" fill="none" stroke="#8c8cff" stroke-width="1.05"/>
<path d="M129.00,745.01C129.67,744.92 131.67,744.66 133.00,744.49C134.33,744.31 135.67,744.14 137.00,743.96C138.33,743.79 139.67,743.62 141.00,743.45C142.33,743.28 143.67,743.11 145.00,742.94C146.33,742.77 147.67,742.61 149.00,742.44C150.33,742.27 151.67,742.10 153.00,741.94C154.33,741.77 155.67,741.61 157.00,741.44C158.33,741.27 159.67,741.11 161.00,740.94C162.33,740.77 163.67,740.60 165.00,740.44C166.33,740.27 167.67,740.10 169.00,739.93C170.33,739.76 171.67,739.59 173.00,739.42C174.33,739.25 175.67,739.07 177.00,738.90C178.33,738.73 179.67,738.55 181.00,738.38C182.33,738.20 183.67,738.02 185.00,737.85C186.33,737.67 187.67,737.49 189.00,737.31C190.33,737.13 191.67,736.95 193.00,736.77C194.33,736.59 195.67,736.41 197.00,736.23C198.33,736.04 199.67,735.86 201.00,735.68C202.33,735.50 203.67,735.32 205.00,735.13C206.33,734.95 207.67,734.77 209.00,734.58C210.33,734.40 211.67,734.22 213.00,734.03C214.33,733.85 215.67,733.67 217.00,733.48C218.33,733.30 219.67,733.12 221.00,732.94C222.33,732.75 223.67,732.57 225.00,732.39C226.33,732.21 227.67,732.02 229.00,731.84C230.33,731.66 231.67,731.49 233.00,731.31C234.33,731.13 235.67,730.96 237.00,730.78C238.33,730.61 239.67,730.44 241.00,730.27C242.33,730.11 243.67,729.94 245.00,729.78C246.33,729.61 247.67,729.45 249.00,729.29C250.33,729.13 251.67,728.97 253.00,728.81C254.33,728.65 255.67,728.49 257.00,728.32C258.33,728.16 259.67,727.99 261.00,727.81C262.33,727.64 263.67,727.47 265.00,727.29C266.33,727.10 267.67,726.92 269.00,726.73C270.33,726.54 271.67,726.35 273.00,726.15C274.33,725.95 275.67,725.75 277.00,725.55C278.33,725.35 279.67,725.15 281.00,724.95C282.33,724.75 283.67,724.55 285.00,724.35C286.33,724.15 287.67,723.95 289.00,723.75C290.33,723.55 291.67,723.35 293.00,723.15C294.33,722.96 295.67,722.76 297.00,722.57C298.33,722.37 299.67,722.18 301.00,721.98C302.33,721.79 303.67,721.60 305.00,721.40C306.33,721.21 307.67,721.02 309.00,720.82C310.33,720.63 311.67,720.43 313.00,720.24C314.33,720.04 315.67,719.84 317.00,719.65C318.33,719.45 319.67,719.25 321.00,719.05C322.33,718.84 323.67,718.64 325.00,718.43C326.33,718.23 327.67,718.02 329.00,717.81C330.33,717.60 331.67,717.39 333.00,717.18C334.33,716.97 335.67,716.75 337.00,716.54C338.33,716.33 339.67,716.12 341.00,715.91C342.33,715.70 343.67,715.49 345.00,715.28C346.33,715.08 347.67,714.87 349.00,714.67C350.33,714.46 351.67,714.26 353.00,714.06C354.33,713.86 355.67,713.66 357.00,713.46C358.33,713.25 359.67,713.05 361.00,712.85C362.33,712.64 363.67,712.44 365.00,712.23C366.33,712.02 367.67,711.80 369.00,711.59C370.33,711.37 371.67,711.15 373.00,710.93C374.33,710.71 375.67,710.48 377.00,710.25C378.33,710.02 379.67,709.79 381.00,709.56C382.33,709.32 383.67,709.09 385.00,708.85C386.33,708.61 387.67,708.37 389.00,708.13C390.33,707.89 391.67,707.65 393.00,707.41C394.33,707.17 395.67,706.93 397.00,706.69C398.33,706.44 399.67,706.20 401.00,705.96C402.33,705.72 403.67,705.48 405.00,705.24C406.33,705.00 407.67,704.76 409.00,704.52C410.33,704.28 411.67,704.04 413.00,703.80C414.33,703.56 415.67,703.31 417.00,703.07C418.33,702.83 419.67,702.59 421.00,702.34C422.33,702.09 423.67,701.84 425.00,701.59C426.33,701.34 427.67,701.08 429.00,700.82C430.33,700.56 431.67,700.30 433.00,700.03C434.33,699.76 435.67,699.49 437.00,699.22C438.33,698.94 439.67,698.66 441.00,698.38C442.33,698.10 443.67,697.82 445.00,697.53C446.33,697.24 447.67,696.95 449.00,696.66C450.33,696.37 451.67,696.08 453.00,695.79C454.33,695.49 455.67,695.20 457.00,694.90C458.33,694.61 459.67,694.31 461.00,694.01C462.33,693.71 463.67,693.42 465.00,693.12C466.33,692.82 467.67,692.52 469.00,692.22C470.33,691.92 471.67,691.62 473.00,691.32C474.33,691.02 475.67,690.72 477.00,690.42C478.33,690.12 479.67,689.82 481.00,689.52C482.33,689.23 483.67,688.93 485.00,688.63C486.33,688.34 487.67,688.04 489.00,687.75C490.33,687.46 491.67,687.17 493.00,686.88C494.33,686.58 495.67,686.30 497.00,686.01C498.33,685.71 499.67,685.43 501.00,685.13C502.33,684.84 503.67,684.55 505.00,684.25C506.33,683.96 507.67,683.66 509.00,683.36C510.33,683.06 511.67,682.76 513.00,682.45C514.33,682.14 515.67,681.83 517.00,681.52C518.33,681.21 519.67,680.89 521.00,680.57C522.33,680.25 523.67,679.93 525.00,679.61C526.33,679.29 527.67,678.97 529.00,678.64C530.33,678.32 531.67,678.00 533.00,677.67C534.33,677.35 535.67,677.03 537.00,676.71C538.33,676.38 539.67,676.06 541.00,675.74C542.33,675.42 543.67,675.11 545.00,674.79C546.33,674.47 547.67,674.16 549.00,673.84C550.33,673.53 551.67,673.22 553.00,672.91C554.33,672.59 555.67,672.29 557.00,671.98C558.33,671.67 559.67,671.36 561.00,671.05C562.33,670.74 563.67,670.43 565.00,670.12C566.33,669.80 567.67,669.49 569.00,669.17C570.33,668.85 571.67,668.53 573.00,668.21C574.33,667.88 575.67,667.55 577.00,667.22C578.33,666.89 579.67,666.55 581.00,666.21C582.33,665.87 583.67,665.53 585.00,665.19C586.33,664.84 587.67,664.49 589.00,664.14C590.33,663.79 591.67,663.44 593.00,663.08C594.33,662.73 595.67,662.37 597.00,662.01C598.33,661.66 599.67,661.30 601.00,660.94C602.33,660.58 603.67,660.21 605.00,659.85C606.33,659.49 607.67,659.12 609.00,658.76C610.33,658.39 611.67,658.03 613.00,657.66C614.33,657.29 615.67,656.92 617.00,656.55C618.33,656.18 619.67,655.81 621.00,655.43C622.33,655.06 623.67,654.68 625.00,654.30C626.33,653.92 627.67,653.54 629.00,653.15C630.33,652.76 631.67,652.37 633.00,651.97C634.33,651.58 635.67,651.18 637.00,650.77C638.33,650.37 639.67,649.96 641.00,649.55C642.33,649.14 643.67,648.72 645.00,648.30C646.33,647.88 647.67,647.46 649.00,647.04C650.33,646.62 651.67,646.19 653.00,645.77C654.33,645.34 655.67,644.91 657.00,644.49C658.33,644.06 659.67,643.63 661.00,643.21C662.33,642.78 663.67,642.35 665.00,641.93C666.33,641.50 667.67,641.07 669.00,640.65C670.33,640.22 671.67,639.80 673.00,639.38C674.33,638.95 675.67,638.53 677.00,638.11C678.33,637.69 679.67,637.27 681.00,636.85C682.33,636.44 683.67,636.02 685.00,635.60C686.33,635.19 687.67,634.77 689.00,634.36C690.33,633.94 691.83,633.48 693.00,633.12C694.17,632.76 695.40,632.38 696.00,632.19C696.60,632.01 696.20,632.17 696.60,632.00C697.00,631.83 698.10,631.33 698.40,631.20" fill="none" stroke="#8cc88c" stroke-width="1.05"/>
<path d="M124.40,744.03C125.07,743.92 127.07,743.60 128.40,743.39C129.73,743.17 131.07,742.97 132.40,742.76C133.73,742.55 135.07,742.35 136.40,742.15C137.73,741.95 139.07,741.75 140.40,741.56C141.73,741.37 143.07,741.18 144.40,740.99C145.73,740.80 147.07,740.62 148.40,740.43C149.73,740.25 151.07,740.07 152.40,739.89C153.73,739.71 155.07,739.53 156.40,739.35C157.73,739.17 159.07,738.99 160.40,738.81C161.73,738.63 163.07,738.45 164.40,738.27C165.73,738.09 167.07,737.91 168.40,737.73C169.73,737.54 171.07,737.36 172.40,737.18C173.73,736.99 175.07,736.81 176.40,736.62C177.73,736.44 179.07,736.25 180.40,736.06C181.73,735.87 183.07,735.68 184.40,735.49C185.73,735.30 187.07,735.11 188.40,734.92C189.73,734.73 191.07,734.54 192.40,734.34C193.73,734.15 195.07,733.96 196.40,733.76C197.73,733.57 199.07,733.37 200.40,733.18C201.73,732.98 203.07,732.79 204.40,732.59C205.73,732.40 207.07,732.20 208.40,732.00C209.73,731.81 211.07,731.61 212.40,731.41C213.73,731.21 215.07,731.01 216.40,730.80C217.73,730.60 219.07,730.39 220.40,730.19C221.73,729.98 223.07,729.77 224.40,729.56C225.73,729.35 227.07,729.13 228.40,728.92C229.73,728.71 231.07,728.50 232.40,728.28C233.73,728.07 235.07,727.86 236.40,727.65C237.73,727.45 239.07,727.24 240.40,727.04C241.73,726.83 243.07,726.64 244.40,726.44C245.73,726.24 247.07,726.05 248.40,725.86C249.73,725.67 251.07,725.49 252.40,725.30C253.73,725.11 255.07,724.93 256.40,724.75C257.73,724.56 259.07,724.38 260.40,724.19C261.73,724.00 263.07,723.82 264.40,723.62C265.73,723.43 267.07,723.24 268.40,723.04C269.73,722.85 271.07,722.65 272.40,722.44C273.73,722.24 275.07,722.03 276.40,721.82C277.73,721.61 279.07,721.40 280.40,721.18C281.73,720.96 283.07,720.74 284.40,720.51C285.73,720.29 287.07,720.06 288.40,719.83C289.73,719.59 291.07,719.36 292.40,719.12C293.73,718.88 295.07,718.64 296.40,718.39C297.73,718.15 299.07,717.91 300.40,717.66C301.73,717.41 303.07,717.17 304.40,716.92C305.73,716.67 307.07,716.43 308.40,716.18C309.73,715.93 311.07,715.69 312.40,715.44C313.73,715.19 315.07,714.95 316.40,714.70C317.73,714.45 319.07,714.21 320.40,713.96C321.73,713.72 323.07,713.47 324.40,713.23C325.73,712.98 327.07,712.74 328.40,712.50C329.73,712.25 331.07,712.01 332.40,711.76C333.73,711.52 335.07,711.27 336.40,711.03C337.73,710.78 339.07,710.53 340.40,710.29C341.73,710.04 343.07,709.79 344.40,709.54C345.73,709.29 347.07,709.04 348.40,708.79C349.73,708.53 351.07,708.28 352.40,708.03C353.73,707.77 355.07,707.51 356.40,707.26C357.73,707.00 359.07,706.74 360.40,706.48C361.73,706.22 363.07,705.96 364.40,705.70C365.73,705.45 367.07,705.19 368.40,704.93C369.73,704.67 371.07,704.41 372.40,704.15C373.73,703.89 375.07,703.63 376.40,703.37C377.73,703.12 379.07,702.86 380.40,702.61C381.73,702.35 383.07,702.10 384.40,701.85C385.73,701.60 387.07,701.35 388.40,701.11C389.73,700.86 391.07,700.61 392.40,700.37C393.73,700.13 395.07,699.88 396.40,699.64C397.73,699.40 399.07,699.16 400.40,698.92C401.73,698.68 403.07,698.43 404.40,698.19C405.73,697.95 407.07,697.70 408.40,697.46C409.73,697.21 411.07,696.96 412.40,696.71C413.73,696.46 415.07,696.21 416.40,695.95C417.73,695.70 419.07,695.44 420.40,695.18C421.73,694.92 423.07,694.65 424.40,694.39C425.73,694.12 427.07,693.85 428.40,693.57C429.73,693.30 431.07,693.02 432.40,692.74C433.73,692.45 435.07,692.17 436.40,691.87C437.73,691.58 439.07,691.29 440.40,690.99C441.73,690.69 443.07,690.38 444.40,690.07C445.73,689.76 447.07,689.44 448.40,689.12C449.73,688.80 451.07,688.48 452.40,688.15C453.73,687.82 455.07,687.48 456.40,687.14C457.73,686.81 459.07,686.47 460.40,686.12C461.73,685.78 463.07,685.44 464.40,685.10C465.73,684.76 467.07,684.41 468.40,684.07C469.73,683.73 471.07,683.39 472.40,683.05C473.73,682.72 475.07,682.38 476.40,682.05C477.73,681.72 479.07,681.38 480.40,681.05C481.73,680.72 483.07,680.40 484.40,680.07C485.73,679.74 487.07,679.42 488.40,679.09C489.73,678.77 491.07,678.44 492.40,678.12C493.73,677.79 495.07,677.47 496.40,677.14C497.73,676.82 499.07,676.50 500.40,676.17C501.73,675.85 503.07,675.53 504.40,675.20C505.73,674.88 507.07,674.56 508.40,674.24C509.73,673.91 511.07,673.59 512.40,673.27C513.73,672.94 515.07,672.62 516.40,672.30C517.73,671.97 519.07,671.65 520.40,671.32C521.73,670.99 523.07,670.66 524.40,670.33C525.73,670.00 527.07,669.67 528.40,669.33C529.73,668.99 531.07,668.65 532.40,668.31C533.73,667.97 535.07,667.62 536.40,667.27C537.73,666.92 539.07,666.57 540.40,666.22C541.73,665.87 543.07,665.52 544.40,665.17C545.73,664.82 547.07,664.47 548.40,664.12C549.73,663.77 551.07,663.42 552.40,663.08C553.73,662.73 555.07,662.39 556.40,662.05C557.73,661.71 559.07,661.37 560.40,661.03C561.73,660.70 563.07,660.36 564.40,660.02C565.73,659.69 567.07,659.35 568.40,659.01C569.73,658.67 571.07,658.33 572.40,657.99C573.73,657.64 575.07,657.30 576.40,656.95C577.73,656.60 579.07,656.25 580.40,655.90C581.73,655.54 583.07,655.18 584.40,654.82C585.73,654.46 587.07,654.10 588.40,653.73C589.73,653.37 591.07,653.00 592.40,652.63C593.73,652.25 595.07,651.88 596.40,651.50C597.73,651.12 599.07,650.74 600.40,650.36C601.73,649.97 603.07,649.59 604.40,649.20C605.73,648.81 607.07,648.42 608.40,648.03C609.73,647.63 611.07,647.23 612.40,646.84C613.73,646.44 615.07,646.03 616.40,645.63C617.73,645.23 619.07,644.82 620.40,644.41C621.73,644.00 623.07,643.59 624.40,643.17C625.73,642.75 627.07,642.34 628.40,641.91C629.73,641.49 631.07,641.07 632.40,640.64C633.73,640.21 635.07,639.78 636.40,639.34C637.73,638.91 639.07,638.47 640.40,638.03C641.73,637.59 643.07,637.15 644.40,636.70C645.73,636.26 647.07,635.81 648.40,635.36C649.73,634.91 651.07,634.46 652.40,634.01C653.73,633.56 655.07,633.11 656.40,632.66C657.73,632.21 659.07,631.75 660.40,631.30C661.73,630.85 663.07,630.40 664.40,629.94C665.73,629.49 667.07,629.04 668.40,628.58C669.73,628.13 671.07,627.68 672.40,627.22C673.73,626.77 675.07,626.32 676.40,625.87C677.73,625.41 679.07,624.96 680.40,624.51C681.73,624.05 683.07,623.60 684.40,623.15C685.73,622.69 687.07,622.24 688.40,621.79C689.73,621.33 691.07,620.88 692.40,620.43C693.73,619.97 694.23,619.74 696.40,619.07C698.57,618.40 703.90,616.84 705.40,616.40" fill="none" stroke="#008000" stroke-width="1.65" stroke-linejoin="round" stroke-linecap="round"/>
<path d="M124.40,711.88C125.07,711.48 127.07,710.28 128.40,709.45C129.73,708.61 131.07,707.77 132.40,706.88C133.73,705.99 135.07,705.08 136.40,704.12C137.73,703.16 139.07,702.17 140.40,701.13C141.73,700.09 143.07,699.00 144.40,697.88C145.73,696.77 147.07,695.61 148.40,694.45C149.73,693.28 151.07,692.08 152.40,690.90C153.73,689.72 155.07,688.51 156.40,687.39C157.73,686.27 159.07,685.17 160.40,684.17C161.73,683.18 163.07,682.26 164.40,681.41C165.73,680.57 167.07,679.81 168.40,679.10C169.73,678.40 171.07,677.77 172.40,677.18C173.73,676.58 175.07,676.06 176.40,675.54C177.73,675.03 179.07,674.56 180.40,674.09C181.73,673.63 183.07,673.19 184.40,672.76C185.73,672.32 187.07,671.91 188.40,671.48C189.73,671.06 191.07,670.64 192.40,670.21C193.73,669.77 195.07,669.34 196.40,668.89C197.73,668.43 199.07,667.97 200.40,667.48C201.73,666.98 203.07,666.47 204.40,665.94C205.73,665.40 207.07,664.84 208.40,664.27C209.73,663.71 211.07,663.13 212.40,662.55C213.73,661.97 215.07,661.38 216.40,660.80C217.73,660.21 219.07,659.62 220.40,659.02C221.73,658.42 223.07,657.81 224.40,657.19C225.73,656.58 227.07,655.95 228.40,655.33C229.73,654.71 231.07,654.09 232.40,653.48C233.73,652.87 235.07,652.26 236.40,651.66C237.73,651.06 239.07,650.46 240.40,649.86C241.73,649.25 243.07,648.65 244.40,648.03C245.73,647.42 247.07,646.79 248.40,646.17C249.73,645.55 251.07,644.92 252.40,644.29C253.73,643.67 255.07,643.05 256.40,642.42C257.73,641.80 259.07,641.18 260.40,640.55C261.73,639.91 263.07,639.28 264.40,638.63C265.73,637.99 267.07,637.33 268.40,636.67C269.73,636.01 271.07,635.34 272.40,634.66C273.73,633.98 275.07,633.29 276.40,632.61C277.73,631.93 279.07,631.24 280.40,630.59C281.73,629.94 283.07,629.31 284.40,628.71C285.73,628.12 287.07,627.58 288.40,627.02C289.73,626.47 291.07,625.95 292.40,625.39C293.73,624.82 295.07,624.25 296.40,623.63C297.73,623.01 299.07,622.35 300.40,621.67C301.73,620.99 303.07,620.27 304.40,619.55C305.73,618.83 307.07,618.08 308.40,617.33C309.73,616.57 311.07,615.80 312.40,615.01C313.73,614.22 315.07,613.42 316.40,612.60C317.73,611.79 319.07,610.95 320.40,610.11C321.73,609.26 323.07,608.39 324.40,607.51C325.73,606.63 327.07,605.73 328.40,604.81C329.73,603.90 331.07,602.96 332.40,602.01C333.73,601.07 335.07,600.10 336.40,599.12C337.73,598.15 339.07,597.15 340.40,596.15C341.73,595.15 343.07,594.13 344.40,593.10C345.73,592.07 347.07,591.02 348.40,589.97C349.73,588.92 351.07,587.86 352.40,586.81C353.73,585.77 355.07,584.72 356.40,583.70C357.73,582.68 359.07,581.67 360.40,580.69C361.73,579.70 363.07,578.73 364.40,577.79C365.73,576.84 367.07,575.92 368.40,575.02C369.73,574.11 371.07,573.22 372.40,572.34C373.73,571.46 375.07,570.60 376.40,569.73C377.73,568.86 379.07,568.01 380.40,567.14C381.73,566.27 383.07,565.40 384.40,564.51C385.73,563.62 387.07,562.71 388.40,561.78C389.73,560.86 391.07,559.89 392.40,558.95C393.73,558.00 395.07,557.04 396.40,556.12C397.73,555.21 399.07,554.31 400.40,553.45C401.73,552.59 403.07,551.77 404.40,550.96C405.73,550.15 407.07,549.36 408.40,548.58C409.73,547.80 411.07,547.03 412.40,546.28C413.73,545.53 415.07,544.79 416.40,544.10C417.73,543.40 419.07,542.74 420.40,542.11C421.73,541.47 423.07,540.88 424.40,540.28C425.73,539.69 427.07,539.12 428.40,538.54C429.73,537.96 431.07,537.39 432.40,536.80C433.73,536.22 435.07,535.63 436.40,535.02C437.73,534.40 439.07,533.78 440.40,533.13C441.73,532.47 443.07,531.80 444.40,531.11C445.73,530.43 447.07,529.73 448.40,529.03C449.73,528.32 451.07,527.62 452.40,526.90C453.73,526.18 455.07,525.46 456.40,524.72C457.73,523.99 459.07,523.23 460.40,522.46C461.73,521.69 463.07,520.90 464.40,520.09C465.73,519.28 467.07,518.44 468.40,517.60C469.73,516.75 471.07,515.86 472.40,515.00C473.73,514.13 475.07,513.23 476.40,512.39C477.73,511.54 479.07,510.72 480.40,509.94C481.73,509.17 483.07,508.45 484.40,507.74C485.73,507.03 487.07,506.36 488.40,505.68C489.73,505.00 491.07,504.32 492.40,503.64C493.73,502.96 495.07,502.27 496.40,501.60C497.73,500.93 499.07,500.26 500.40,499.61C501.73,498.97 503.07,498.34 504.40,497.72C505.73,497.10 507.07,496.50 508.40,495.91C509.73,495.33 511.07,494.75 512.40,494.19C513.73,493.62 515.07,493.07 516.40,492.54C517.73,492.00 519.07,491.48 520.40,490.98C521.73,490.48 523.07,490.00 524.40,489.53C525.73,489.05 527.07,488.60 528.40,488.14C529.73,487.68 531.07,487.23 532.40,486.76C533.73,486.30 535.07,485.83 536.40,485.36C537.73,484.89 539.07,484.41 540.40,483.95C541.73,483.48 543.07,483.02 544.40,482.56C545.73,482.09 547.07,481.64 548.40,481.17C549.73,480.69 551.07,480.21 552.40,479.70C553.73,479.20 555.07,478.66 556.40,478.13C557.73,477.59 559.07,477.04 560.40,476.50C561.73,475.97 563.07,475.44 564.40,474.92C565.73,474.40 567.07,473.91 568.40,473.41C569.73,472.91 571.07,472.41 572.40,471.91C573.73,471.41 575.07,470.91 576.40,470.41C577.73,469.90 579.07,469.40 580.40,468.90C581.73,468.41 583.07,467.91 584.40,467.44C585.73,466.96 587.07,466.49 588.40,466.05C589.73,465.61 591.07,465.18 592.40,464.78C593.73,464.38 595.07,464.01 596.40,463.66C597.73,463.30 599.07,462.98 600.40,462.68C601.73,462.37 603.07,462.09 604.40,461.82C605.73,461.56 607.07,461.31 608.40,461.09C609.73,460.87 611.07,460.67 612.40,460.49C613.73,460.32 615.07,460.16 616.40,460.03C617.73,459.90 619.07,459.78 620.40,459.69C621.73,459.59 623.07,459.51 624.40,459.44C625.73,459.37 627.07,459.31 628.40,459.27C629.73,459.22 631.07,459.19 632.40,459.18C633.73,459.17 635.07,459.18 636.40,459.22C637.73,459.25 639.07,459.32 640.40,459.39C641.73,459.47 643.07,459.57 644.40,459.69C645.73,459.80 647.07,459.92 648.40,460.07C649.73,460.22 651.07,460.38 652.40,460.57C653.73,460.76 655.07,460.97 656.40,461.21C657.73,461.44 659.07,461.72 660.40,461.99C661.73,462.26 663.07,462.56 664.40,462.83C665.73,463.10 667.07,463.37 668.40,463.63C669.73,463.89 671.07,464.13 672.40,464.38C673.73,464.62 675.07,464.86 676.40,465.10C677.73,465.34 679.07,465.57 680.40,465.81C681.73,466.05 683.07,466.28 684.40,466.53C685.73,466.78 687.07,467.03 688.40,467.30C689.73,467.56 691.07,467.84 692.40,468.12C693.73,468.40 695.13,468.64 696.40,468.98C697.67,469.33 698.98,469.61 700.00,470.20C701.02,470.79 701.83,471.53 702.50,472.50C703.17,473.47 703.50,474.50 704.00,476.00C704.50,477.50 705.25,480.58 705.50,481.50" fill="none" stroke="#0000ff" stroke-width="1.65" stroke-linejoin="round" stroke-linecap="round"/>
<path d="M124.40,544.38C125.07,543.78 127.07,541.99 128.40,540.76C129.73,539.54 131.07,538.29 132.40,537.02C133.73,535.75 135.07,534.46 136.40,533.14C137.73,531.83 139.07,530.50 140.40,529.13C141.73,527.75 143.07,526.38 144.40,524.90C145.73,523.42 147.07,521.91 148.40,520.24C149.73,518.58 151.07,516.73 152.40,514.91C153.73,513.10 155.07,511.05 156.40,509.34C157.73,507.64 159.07,505.98 160.40,504.66C161.73,503.34 163.07,502.31 164.40,501.43C165.73,500.55 167.07,499.94 168.40,499.38C169.73,498.82 171.07,498.43 172.40,498.07C173.73,497.72 175.07,497.46 176.40,497.25C177.73,497.04 179.07,496.91 180.40,496.83C181.73,496.74 183.07,496.74 184.40,496.74C185.73,496.73 187.07,496.78 188.40,496.80C189.73,496.82 191.07,496.85 192.40,496.85C193.73,496.85 195.07,496.84 196.40,496.81C197.73,496.78 199.07,496.74 200.40,496.65C201.73,496.57 203.07,496.46 204.40,496.31C205.73,496.15 207.07,495.95 208.40,495.73C209.73,495.51 211.07,495.26 212.40,495.01C213.73,494.77 215.07,494.51 216.40,494.26C217.73,494.01 219.07,493.76 220.40,493.52C221.73,493.28 223.07,493.05 224.40,492.83C225.73,492.61 227.07,492.41 228.40,492.21C229.73,492.00 231.07,491.81 232.40,491.61C233.73,491.41 235.07,491.21 236.40,491.01C237.73,490.80 239.07,490.60 240.40,490.38C241.73,490.16 243.07,489.94 244.40,489.70C245.73,489.47 247.07,489.22 248.40,488.97C249.73,488.73 251.07,488.47 252.40,488.23C253.73,487.98 255.07,487.74 256.40,487.50C257.73,487.26 259.07,487.03 260.40,486.79C261.73,486.56 263.07,486.32 264.40,486.08C265.73,485.85 267.07,485.61 268.40,485.37C269.73,485.12 271.07,484.88 272.40,484.63C273.73,484.39 275.07,484.13 276.40,483.89C277.73,483.64 279.07,483.39 280.40,483.16C281.73,482.94 283.07,482.72 284.40,482.53C285.73,482.33 287.07,482.17 288.40,482.00C289.73,481.82 291.07,481.67 292.40,481.47C293.73,481.27 295.07,481.06 296.40,480.80C297.73,480.53 299.07,480.23 300.40,479.89C301.73,479.56 303.07,479.18 304.40,478.79C305.73,478.40 307.07,477.98 308.40,477.54C309.73,477.10 311.07,476.64 312.40,476.16C313.73,475.68 315.07,475.18 316.40,474.67C317.73,474.15 319.07,473.62 320.40,473.08C321.73,472.53 323.07,471.96 324.40,471.38C325.73,470.80 327.07,470.20 328.40,469.59C329.73,468.99 331.07,468.36 332.40,467.76C333.73,467.15 335.07,466.54 336.40,465.96C337.73,465.37 339.07,464.80 340.40,464.24C341.73,463.67 343.07,463.11 344.40,462.55C345.73,461.99 347.07,461.42 348.40,460.85C349.73,460.29 351.07,459.71 352.40,459.15C353.73,458.59 355.07,458.02 356.40,457.48C357.73,456.93 359.07,456.39 360.40,455.87C361.73,455.34 363.07,454.83 364.40,454.32C365.73,453.81 367.07,453.31 368.40,452.82C369.73,452.33 371.07,451.84 372.40,451.36C373.73,450.88 375.07,450.40 376.40,449.93C377.73,449.45 379.07,448.97 380.40,448.50C381.73,448.02 383.07,447.55 384.40,447.09C385.73,446.63 387.07,446.17 388.40,445.73C389.73,445.29 391.07,444.85 392.40,444.43C393.73,444.02 395.07,443.61 396.40,443.22C397.73,442.83 399.07,442.45 400.40,442.10C401.73,441.75 403.07,441.41 404.40,441.11C405.73,440.81 407.07,440.54 408.40,440.30C409.73,440.06 411.07,439.86 412.40,439.68C413.73,439.50 415.07,439.35 416.40,439.22C417.73,439.09 419.07,439.00 420.40,438.91C421.73,438.82 423.07,438.76 424.40,438.69C425.73,438.62 427.07,438.56 428.40,438.49C429.73,438.43 431.07,438.36 432.40,438.28C433.73,438.20 435.07,438.13 436.40,438.03C437.73,437.93 439.07,437.83 440.40,437.70C441.73,437.57 443.07,437.42 444.40,437.25C445.73,437.08 447.07,436.89 448.40,436.68C449.73,436.46 451.07,436.21 452.40,435.95C453.73,435.68 455.07,435.39 456.40,435.09C457.73,434.80 459.07,434.49 460.40,434.18C461.73,433.88 463.07,433.58 464.40,433.27C465.73,432.97 467.07,432.67 468.40,432.36C469.73,432.06 471.07,431.75 472.40,431.45C473.73,431.14 475.07,430.84 476.40,430.55C477.73,430.27 479.07,429.99 480.40,429.74C481.73,429.48 483.07,429.25 484.40,429.03C485.73,428.80 487.07,428.60 488.40,428.40C489.73,428.20 491.07,428.00 492.40,427.83C493.73,427.66 495.07,427.49 496.40,427.37C497.73,427.25 499.07,427.16 500.40,427.11C501.73,427.05 503.07,427.03 504.40,427.02C505.73,427.00 507.07,427.01 508.40,427.02C509.73,427.03 511.07,427.05 512.40,427.09C513.73,427.13 515.07,427.19 516.40,427.24C517.73,427.30 519.07,427.37 520.40,427.43C521.73,427.49 523.07,427.54 524.40,427.58C525.73,427.63 527.07,427.66 528.40,427.68C529.73,427.71 531.07,427.72 532.40,427.73C533.73,427.74 535.07,427.75 536.40,427.74C537.73,427.74 539.07,427.74 540.40,427.72C541.73,427.70 543.07,427.68 544.40,427.63C545.73,427.59 547.07,427.53 548.40,427.47C549.73,427.41 551.07,427.34 552.40,427.28C553.73,427.22 555.07,427.17 556.40,427.12C557.73,427.06 559.07,427.02 560.40,426.97C561.73,426.92 563.07,426.87 564.40,426.82C565.73,426.77 567.07,426.72 568.40,426.68C569.73,426.64 571.07,426.61 572.40,426.58C573.73,426.56 575.07,426.54 576.40,426.53C577.73,426.52 579.07,426.52 580.40,426.52C581.73,426.53 583.07,426.54 584.40,426.57C585.73,426.60 587.07,426.64 588.40,426.69C589.73,426.73 591.07,426.80 592.40,426.86C593.73,426.92 595.07,426.98 596.40,427.06C597.73,427.13 599.07,427.21 600.40,427.30C601.73,427.40 603.07,427.50 604.40,427.62C605.73,427.75 607.07,427.89 608.40,428.05C609.73,428.21 611.07,428.39 612.40,428.58C613.73,428.77 615.07,428.98 616.40,429.19C617.73,429.41 619.07,429.63 620.40,429.88C621.73,430.12 623.07,430.38 624.40,430.66C625.73,430.94 627.07,431.25 628.40,431.56C629.73,431.87 631.07,432.21 632.40,432.55C633.73,432.88 635.07,433.23 636.40,433.58C637.73,433.93 639.07,434.29 640.40,434.65C641.73,435.01 643.07,435.37 644.40,435.74C645.73,436.11 647.07,436.47 648.40,436.85C649.73,437.23 651.07,437.61 652.40,438.01C653.73,438.41 655.07,438.83 656.40,439.26C657.73,439.69 659.07,440.15 660.40,440.60C661.73,441.04 663.07,441.50 664.40,441.94C665.73,442.38 667.07,442.81 668.40,443.23C669.73,443.65 671.07,444.05 672.40,444.47C673.73,444.89 675.07,445.31 676.40,445.74C677.73,446.18 679.07,446.62 680.40,447.07C681.73,447.52 683.07,447.99 684.40,448.44C685.73,448.89 687.07,449.35 688.40,449.80C689.73,450.25 691.07,450.69 692.40,451.14C693.73,451.58 695.13,451.99 696.40,452.47C697.67,452.94 698.98,453.41 700.00,454.00C701.02,454.59 701.83,455.25 702.50,456.00C703.17,456.75 703.50,457.37 704.00,458.50C704.50,459.63 705.25,462.08 705.50,462.80" fill="none" stroke="#ff3c00" stroke-width="1.65" stroke-linejoin="round" stroke-linecap="round"/>
<path d="M124.40,688.99C125.07,688.48 127.07,686.96 128.40,685.92C129.73,684.89 131.07,683.85 132.40,682.78C133.73,681.71 135.07,680.63 136.40,679.51C137.73,678.39 139.07,677.23 140.40,676.04C141.73,674.84 143.07,673.60 144.40,672.33C145.73,671.06 147.07,669.74 148.40,668.42C149.73,667.10 151.07,665.72 152.40,664.38C153.73,663.05 155.07,661.66 156.40,660.39C157.73,659.12 159.07,657.88 160.40,656.77C161.73,655.65 163.07,654.64 164.40,653.69C165.73,652.74 167.07,651.90 168.40,651.09C169.73,650.27 171.07,649.54 172.40,648.82C173.73,648.10 175.07,647.43 176.40,646.76C177.73,646.09 179.07,645.45 180.40,644.80C181.73,644.14 183.07,643.49 184.40,642.83C185.73,642.17 187.07,641.50 188.40,640.82C189.73,640.14 191.07,639.44 192.40,638.73C193.73,638.02 195.07,637.29 196.40,636.56C197.73,635.83 199.07,635.08 200.40,634.33C201.73,633.59 203.07,632.84 204.40,632.09C205.73,631.34 207.07,630.60 208.40,629.83C209.73,629.06 211.07,628.29 212.40,627.49C213.73,626.70 215.07,625.88 216.40,625.06C217.73,624.24 219.07,623.40 220.40,622.59C221.73,621.77 223.07,620.95 224.40,620.16C225.73,619.36 227.07,618.57 228.40,617.79C229.73,617.01 231.07,616.24 232.40,615.47C233.73,614.70 235.07,613.93 236.40,613.16C237.73,612.39 239.07,611.62 240.40,610.83C241.73,610.05 243.07,609.25 244.40,608.44C245.73,607.63 247.07,606.81 248.40,605.98C249.73,605.16 251.07,604.32 252.40,603.49C253.73,602.66 255.07,601.83 256.40,601.00C257.73,600.18 259.07,599.35 260.40,598.52C261.73,597.69 263.07,596.85 264.40,596.01C265.73,595.17 267.07,594.32 268.40,593.46C269.73,592.60 271.07,591.73 272.40,590.86C273.73,589.98 275.07,589.09 276.40,588.20C277.73,587.32 279.07,586.41 280.40,585.53C281.73,584.65 283.07,583.77 284.40,582.91C285.73,582.05 287.07,581.22 288.40,580.37C289.73,579.52 291.07,578.69 292.40,577.80C293.73,576.92 295.07,576.00 296.40,575.05C297.73,574.10 299.07,573.10 300.40,572.10C301.73,571.11 303.07,570.08 304.40,569.08C305.73,568.08 307.07,567.09 308.40,566.10C309.73,565.11 311.07,564.14 312.40,563.14C313.73,562.15 315.07,561.16 316.40,560.15C317.73,559.13 319.07,558.11 320.40,557.06C321.73,556.00 323.07,554.93 324.40,553.83C325.73,552.72 327.07,551.58 328.40,550.42C329.73,549.27 331.07,548.07 332.40,546.89C333.73,545.70 335.07,544.50 336.40,543.31C337.73,542.12 339.07,540.93 340.40,539.74C341.73,538.55 343.07,537.36 344.40,536.16C345.73,534.97 347.07,533.77 348.40,532.56C349.73,531.35 351.07,530.13 352.40,528.92C353.73,527.70 355.07,526.48 356.40,525.25C357.73,524.03 359.07,522.80 360.40,521.58C361.73,520.36 363.07,519.14 364.40,517.93C365.73,516.73 367.07,515.53 368.40,514.34C369.73,513.16 371.07,511.98 372.40,510.82C373.73,509.66 375.07,508.51 376.40,507.37C377.73,506.23 379.07,505.11 380.40,503.98C381.73,502.85 383.07,501.74 384.40,500.59C385.73,499.44 387.07,498.27 388.40,497.08C389.73,495.88 391.07,494.64 392.40,493.42C393.73,492.19 395.07,490.94 396.40,489.73C397.73,488.52 399.07,487.32 400.40,486.16C401.73,485.00 403.07,483.88 404.40,482.76C405.73,481.65 407.07,480.56 408.40,479.49C409.73,478.41 411.07,477.34 412.40,476.31C413.73,475.27 415.07,474.24 416.40,473.26C417.73,472.27 419.07,471.33 420.40,470.40C421.73,469.47 423.07,468.58 424.40,467.69C425.73,466.80 427.07,465.93 428.40,465.04C429.73,464.16 431.07,463.27 432.40,462.38C433.73,461.49 435.07,460.59 436.40,459.68C437.73,458.78 439.07,457.87 440.40,456.95C441.73,456.03 443.07,455.11 444.40,454.15C445.73,453.20 447.07,452.24 448.40,451.24C449.73,450.24 451.07,449.21 452.40,448.16C453.73,447.12 455.07,446.03 456.40,444.96C457.73,443.89 459.07,442.80 460.40,441.73C461.73,440.66 463.07,439.60 464.40,438.53C465.73,437.46 467.07,436.40 468.40,435.33C469.73,434.26 471.07,433.18 472.40,432.11C473.73,431.04 475.07,429.95 476.40,428.90C477.73,427.85 479.07,426.82 480.40,425.81C481.73,424.80 483.07,423.84 484.40,422.87C485.73,421.90 487.07,420.95 488.40,419.98C489.73,419.01 491.07,418.02 492.40,417.03C493.73,416.03 495.07,415.01 496.40,414.01C497.73,413.01 499.07,412.01 500.40,411.04C501.73,410.08 503.07,409.13 504.40,408.21C505.73,407.28 507.07,406.39 508.40,405.50C509.73,404.62 511.07,403.77 512.40,402.92C513.73,402.08 515.07,401.26 516.40,400.44C517.73,399.62 519.07,398.82 520.40,398.01C521.73,397.20 523.07,396.40 524.40,395.58C525.73,394.77 527.07,393.96 528.40,393.14C529.73,392.32 531.07,391.49 532.40,390.65C533.73,389.81 535.07,388.96 536.40,388.12C537.73,387.27 539.07,386.42 540.40,385.58C541.73,384.74 543.07,383.90 544.40,383.07C545.73,382.24 547.07,381.43 548.40,380.61C549.73,379.80 551.07,378.99 552.40,378.18C553.73,377.37 555.07,376.59 556.40,375.76C557.73,374.93 559.07,374.11 560.40,373.21C561.73,372.32 563.07,371.37 564.40,370.39C565.73,369.41 567.07,368.34 568.40,367.31C569.73,366.29 571.07,365.23 572.40,364.23C573.73,363.24 575.07,362.28 576.40,361.35C577.73,360.43 579.07,359.54 580.40,358.68C581.73,357.81 583.07,356.98 584.40,356.16C585.73,355.34 587.07,354.55 588.40,353.77C589.73,353.00 591.07,352.24 592.40,351.50C593.73,350.76 595.07,350.04 596.40,349.34C597.73,348.64 599.07,347.95 600.40,347.29C601.73,346.63 603.07,345.99 604.40,345.38C605.73,344.76 607.07,344.17 608.40,343.60C609.73,343.02 611.07,342.47 612.40,341.92C613.73,341.37 615.07,340.83 616.40,340.31C617.73,339.78 619.07,339.26 620.40,338.76C621.73,338.26 623.07,337.78 624.40,337.31C625.73,336.85 627.07,336.41 628.40,335.99C629.73,335.56 631.07,335.16 632.40,334.78C633.73,334.39 635.07,334.03 636.40,333.68C637.73,333.33 639.07,333.01 640.40,332.68C641.73,332.36 643.07,332.05 644.40,331.74C645.73,331.43 647.07,331.12 648.40,330.82C649.73,330.52 651.07,330.22 652.40,329.93C653.73,329.64 655.07,329.36 656.40,329.10C657.73,328.83 659.07,328.58 660.40,328.33C661.73,328.09 663.07,327.85 664.40,327.62C665.73,327.39 667.07,327.18 668.40,326.96C669.73,326.74 671.07,326.53 672.40,326.32C673.73,326.11 675.07,325.91 676.40,325.70C677.73,325.50 679.07,325.29 680.40,325.10C681.73,324.91 683.07,324.72 684.40,324.55C685.73,324.38 687.07,324.23 688.40,324.09C689.73,323.95 691.07,323.83 692.40,323.72C693.73,323.61 695.13,323.47 696.40,323.41C697.67,323.36 698.98,323.22 700.00,323.40C701.02,323.58 701.83,323.90 702.50,324.50C703.17,325.10 703.58,326.00 704.00,327.00C704.42,328.00 704.75,329.42 705.00,330.50C705.25,331.58 705.42,333.00 705.50,333.50" fill="none" stroke="#ff0000" stroke-width="1.65" stroke-linejoin="round" stroke-linecap="round"/>
<rect x="46.6" y="312.6" width="96.4" height="76.4" fill="#fff" stroke="#c4c4c4" stroke-width="1"/>
<text x="50.4" y="331.3" font-size="13.85" fill="#0000ff" style="stroke:#0000ff">P-wheel [BHP]</text>
<text x="50.4" y="347.85" font-size="13.85" fill="#008000" style="stroke:#008000">P-drag [BHP]</text>
<text x="50.4" y="364.4" font-size="13.85" fill="#ff0000" style="stroke:#ff0000">P-norm [BHP]</text>
<text x="50.4" y="380.95" font-size="13.85" fill="#ff4500" style="stroke:#ff4500">M-norm [lbf.ft]</text>
<text x="40.7" y="786.6" text-anchor="middle" font-size="13.8">1000</text>
<text x="143.79" y="786.6" text-anchor="middle" font-size="13.8">2000</text>
<text x="246.88" y="786.6" text-anchor="middle" font-size="13.8">3000</text>
<text x="349.97" y="786.6" text-anchor="middle" font-size="13.8">4000</text>
<text x="453.06" y="786.6" text-anchor="middle" font-size="13.8">5000</text>
<text x="556.15" y="786.6" text-anchor="middle" font-size="13.8">6000</text>
<text x="659.25" y="786.6" text-anchor="middle" font-size="13.8">7000</text>
<text x="735.2" y="799.6" font-size="13.7">n [rpm]</text>
<text transform="translate(31.9,760.00) rotate(-90)" text-anchor="end" font-size="14">0</text>
<text transform="translate(738.9,760.00) rotate(-90)" text-anchor="end" font-size="14" fill="#ff4500" style="stroke:#ff4500">0</text>
<text transform="translate(31.9,653.54) rotate(-90)" text-anchor="end" font-size="14">50</text>
<text transform="translate(738.9,653.54) rotate(-90)" text-anchor="end" font-size="14" fill="#ff4500" style="stroke:#ff4500">50</text>
<text transform="translate(31.9,547.09) rotate(-90)" text-anchor="end" font-size="14">100</text>
<text transform="translate(738.9,547.09) rotate(-90)" text-anchor="end" font-size="14" fill="#ff4500" style="stroke:#ff4500">100</text>
<text transform="translate(31.9,440.63) rotate(-90)" text-anchor="end" font-size="14">150</text>
<text transform="translate(738.9,440.63) rotate(-90)" text-anchor="end" font-size="14" fill="#ff4500" style="stroke:#ff4500">150</text>
<text transform="translate(31.9,334.18) rotate(-90)" text-anchor="end" font-size="14">200</text>
<text transform="translate(738.9,334.18) rotate(-90)" text-anchor="end" font-size="14" fill="#ff4500" style="stroke:#ff4500">200</text>
<!-- tables -->
<text x="18.7" y="834.2" font-size="21" font-style="italic">Power data</text>
<text x="419.5" y="834.2" font-size="21" font-style="italic">Ambient data</text>
<text x="18.7" y="1068.2" font-size="21" font-style="italic">Slip</text>
<text x="419.5" y="1068.2" font-size="21" font-style="italic">Rotating mass</text>
<text x="18.5" y="858.4" class="r">Corrected power<tspan font-size="8.3" dy="-1.7" dx="4.4">1)</tspan></text>
<text x="165.2" y="858.4" class="r">P<tspan font-size="9.3" dy="3.3">Norm</tspan></text>
<text x="257.3" y="858.4" text-anchor="end" class="r">208.4</text>
<text x="266.6" y="858.4" class="r">BHP</text>
<text x="304.2" y="858.4" class="r">/</text>
<text x="354.3" y="858.4" text-anchor="end" class="r">155.4</text>
<text x="363.4" y="858.4" class="r">kW</text>
<text x="18.5" y="875.4" class="r">Engine power</text>
<text x="165.2" y="875.4" class="r">P<tspan font-size="9.3" dy="3.3">Eng</tspan></text>
<text x="257.3" y="875.4" text-anchor="end" class="r">209.8</text>
<text x="266.6" y="875.4" class="r">BHP</text>
<text x="304.2" y="875.4" class="r">/</text>
<text x="354.3" y="875.4" text-anchor="end" class="r">156.4</text>
<text x="363.4" y="875.4" class="r">kW</text>
<text x="18.5" y="892.4" class="b">Wheel power</text>
<text x="165.2" y="892.4" class="b">P<tspan font-size="9.3" dy="3.3">Wheel</tspan></text>
<text x="257.3" y="892.4" text-anchor="end" class="b">139.6</text>
<text x="266.6" y="892.4" class="b">BHP</text>
<text x="304.2" y="892.4" class="b">/</text>
<text x="354.3" y="892.4" text-anchor="end" class="b">104.1</text>
<text x="363.4" y="892.4" class="b">kW</text>
<text x="18.5" y="909.4" class="g">Drag power</text>
<text x="165.2" y="909.4" class="g">P<tspan font-size="9.3" dy="3.3">Drag</tspan></text>
<text x="257.3" y="909.4" text-anchor="end" class="g">70.2</text>
<text x="266.6" y="909.4" class="g">BHP</text>
<text x="308.04" y="909.4" class="g">/</text>
<text x="354.3" y="909.4" text-anchor="end" class="g">52.3</text>
<text x="363.4" y="909.4" class="g">kW</text>
<text x="18.5" y="926.4">Max. power at</text>
<text x="257.3" y="926.4" text-anchor="end" class="y">7435</text>
<text x="266.6" y="926.4" class="y">rpm</text>
<text x="304.2" y="926.4">/</text>
<text x="354.3" y="926.4" text-anchor="end">118.1</text>
<text x="363.4" y="926.4">mph</text>
<text x="18.5" y="949.2" class="o">Torque<tspan font-size="8.3" dy="-1.7" dx="4.4">1)</tspan></text>
<text x="165.2" y="949.2" class="o">M<tspan font-size="9.3" dy="3.3">Morm</tspan></text>
<text x="257.3" y="949.2" text-anchor="end" class="o">160.2</text>
<text x="266.6" y="949.2" class="o">lbf.ft</text>
<text x="18.5" y="966.4">Max. Torque at</text>
<text x="257.3" y="966.4" text-anchor="end" class="y">6275</text>
<text x="266.6" y="966.4" class="y">rpm</text>
<text x="308.04" y="966.4">/</text>
<text x="354.3" y="966.4" text-anchor="end">99.7</text>
<text x="363.4" y="966.4">mph</text>
<text x="18.5" y="990.0">Max. attained RPM</text>
<text x="257.3" y="990.0" text-anchor="end" class="y">7485</text>
<text x="266.6" y="990.0" class="y">rpm</text>
<text x="304.2" y="990.0">/</text>
<text x="354.3" y="990.0" text-anchor="end">118.9</text>
<text x="363.4" y="990.0">mph</text>
<text x="18.6" y="1012.6" class="r"><tspan font-size="8.3" dy="-1.3">1)</tspan><tspan dy="1.3" dx="3.2">Correction acc. to DIN 70020</tspan></text>
<text x="29.8" y="1029.8" class="r">Correction factors: Q<tspan font-size="9.3" dy="3.3">V</tspan><tspan dy="-3.3"> =   0.00 %</tspan></text>
<text x="418.4" y="858.4">Ambient temperature</text>
<text x="602.2" y="858.4">T<tspan font-size="9.3" dy="3.3">Ambient</tspan></text>
<text x="712.8" y="858.4" text-anchor="end">17.9</text>
<text x="722.3" y="858.4">°C</text>
<text x="418.4" y="875.4">Intake air temperature</text>
<text x="602.2" y="875.4">T<tspan font-size="9.3" dy="3.3">Intake air</tspan></text>
<text x="712.8" y="875.4" text-anchor="end">18.8</text>
<text x="722.3" y="875.4">°C</text>
<text x="418.4" y="892.4">Relative humidity</text>
<text x="602.2" y="892.4">H<tspan font-size="9.3" dy="3.3">Air</tspan></text>
<text x="712.8" y="892.4" text-anchor="end">60.2</text>
<text x="722.3" y="892.4">%</text>
<text x="418.4" y="909.4">Air pressure</text>
<text x="602.2" y="909.4">p<tspan font-size="9.3" dy="3.3">Air</tspan></text>
<text x="712.8" y="909.4" text-anchor="end">1017.6</text>
<text x="722.3" y="909.4">hPa</text>
<text x="418.4" y="926.4">Steam pressure</text>
<text x="602.2" y="926.4">p<tspan font-size="9.3" dy="3.3">Steam</tspan></text>
<text x="712.8" y="926.4" text-anchor="end">12.3</text>
<text x="722.3" y="926.4">hPa</text>
<text x="418.4" y="949.2">Oil temperature</text>
<text x="602.2" y="949.2">T<tspan font-size="9.3" dy="3.3">Oil</tspan></text>
<text x="712.8" y="949.2" text-anchor="end">16.0</text>
<text x="722.3" y="949.2">°C</text>
<text x="418.4" y="966.4">Fuel temperature</text>
<text x="602.2" y="966.4">T<tspan font-size="9.3" dy="3.3">Fuel</tspan></text>
<text x="712.8" y="966.4" text-anchor="end">----.-</text>
<text x="722.3" y="966.4">°C</text>
<text x="18.5" y="1092.5">Speed no load</text>
<text x="229.8" y="1092.5">v<tspan font-size="9.3" dy="3.3">no load</tspan></text>
<text x="340.6" y="1092.5" text-anchor="end">----.-</text>
<text x="349.8" y="1092.5">mph</text>
<text x="18.5" y="1109.5">RPM no load</text>
<text x="229.8" y="1109.5">n<tspan font-size="9.3" dy="3.3">no load</tspan></text>
<text x="340.6" y="1109.5" text-anchor="end">-----</text>
<text x="349.8" y="1109.5">rpm</text>
<text x="18.5" y="1126.4">Speed full load</text>
<text x="229.8" y="1126.4">v<tspan font-size="9.3" dy="3.3">full load</tspan></text>
<text x="340.6" y="1126.4" text-anchor="end">----.-</text>
<text x="349.8" y="1126.4">mph</text>
<text x="18.5" y="1143.3">RPM full load</text>
<text x="229.8" y="1143.3">n<tspan font-size="9.3" dy="3.3">full load</tspan></text>
<text x="340.6" y="1143.3" text-anchor="end">-----</text>
<text x="349.8" y="1143.3">rpm</text>
<text x="18.5" y="1166.6">Slip</text>
<text x="340.6" y="1166.6" text-anchor="end">---.--</text>
<text x="349.8" y="1166.6">%</text>
<text x="418.4" y="1092.5">Average delay run down 1</text>
<text x="629.8" y="1092.5">a<tspan font-size="9.3" dy="3.3">1</tspan></text>
<text x="740.5" y="1092.5" text-anchor="end">---.---</text>
<text x="749.5" y="1092.5">m/s<tspan font-size="9.3" dy="-1">2</tspan></text>
<text x="418.4" y="1109.5">Average Brake force run down 1</text>
<text x="629.8" y="1109.5">F<tspan font-size="9.3" dy="3.3">1</tspan></text>
<text x="740.5" y="1109.5" text-anchor="end">-----.-</text>
<text x="749.5" y="1109.5">lbf</text>
<text x="418.4" y="1126.4">Average delay run down 2</text>
<text x="629.8" y="1126.4">a<tspan font-size="9.3" dy="3.3">2</tspan></text>
<text x="740.5" y="1126.4" text-anchor="end">---.---</text>
<text x="749.5" y="1126.4">m/s<tspan font-size="9.3" dy="-1">2</tspan></text>
<text x="418.4" y="1143.3">Average brake force run down 2</text>
<text x="629.8" y="1143.3">F<tspan font-size="9.3" dy="3.3">2</tspan></text>
<text x="740.5" y="1143.3" text-anchor="end">-----.-</text>
<text x="749.5" y="1143.3">lbf</text>
<text x="418.4" y="1166.6">Force of the rotating mass</text>
<text x="629.8" y="1166.6">F<tspan font-size="9.3" dy="3.3">rot-total</tspan></text>
<text x="740.5" y="1166.6" text-anchor="end">-----.-</text>
<text x="749.5" y="1166.6">lbf</text>
<text x="418.4" y="1189.6">Rotating total mass</text>
<text x="629.8" y="1189.6">m<tspan font-size="9.3" dy="3.3">rot-total</tspan></text>
<text x="740.5" y="1189.6" text-anchor="end">310.0</text>
<text x="749.5" y="1189.6">kg</text>
<text x="418.4" y="1206.5">Rotating test stand mass</text>
<text x="629.8" y="1206.5">m<tspan font-size="9.3" dy="3.3">rot-dyno</tspan></text>
<text x="740.5" y="1206.5" text-anchor="end">250.0</text>
<text x="749.5" y="1206.5">kg</text>
<text x="418.4" y="1223.5">Rotating vehicle mass</text>
<text x="629.8" y="1223.5">m<tspan font-size="9.3" dy="3.3">rot-vehicle</tspan></text>
<text x="740.5" y="1223.5" text-anchor="end">60.0</text>
<text x="749.5" y="1223.5">kg</text>
<text x="0.5" y="1250.6" font-size="9.35" class="ns">LPS 3000 PKW V 1.09.001 (16.02.2007)</text>
<text x="408.2" y="1250.6" font-size="9.35" class="ns">(150/100/0000/000/0000)</text>
<text x="799.6" y="1250.6" text-anchor="end" font-size="9.35" class="ns">LPS-EURO V1.24.001</text>
</svg>
</body>
</html>
